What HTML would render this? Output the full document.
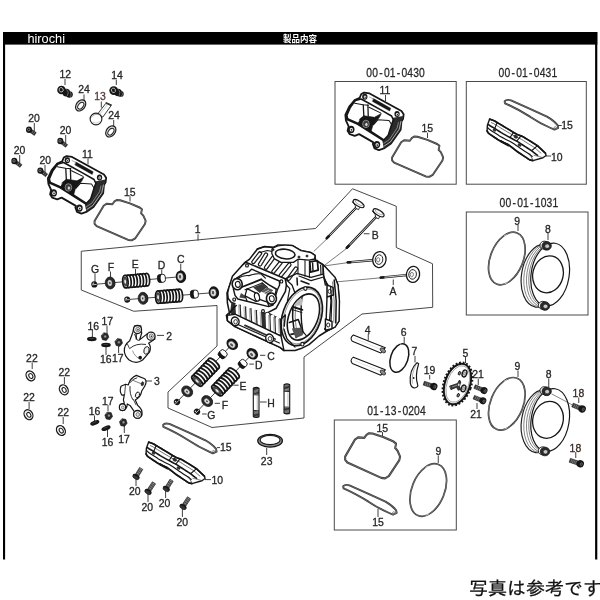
<!DOCTYPE html>
<html lang="ja"><head><meta charset="utf-8"><title>製品内容</title>
<style>
html,body{margin:0;padding:0;background:#fff;}
body{width:600px;height:600px;overflow:hidden;}
svg{display:block;will-change:transform;font-family:"Liberation Sans","Noto Sans CJK JP",sans-serif;}
</style></head><body>
<svg width="600" height="600" viewBox="0 0 600 600">
<rect width="600" height="600" fill="#fff"/>
<rect x="3" y="32" width="594.3" height="12.6" fill="#000"/>
<rect x="3" y="32" width="2.1" height="527.5" fill="#000"/>
<rect x="595.1" y="32" width="2.2" height="527.5" fill="#000"/>
<text x="27.4" y="42.6" font-size="13.4" fill="#fff" text-anchor="start" font-weight="normal" textLength="37.6" lengthAdjust="spacingAndGlyphs">hirochi</text>
<text x="283" y="42" font-size="8.6" fill="#fff" font-weight="bold" textLength="34" lengthAdjust="spacingAndGlyphs" style="font-family:'Liberation Sans','Noto Sans CJK JP',sans-serif">製品内容</text>
<text x="469" y="594.5" font-size="18.6" fill="#111" stroke="#111" stroke-width="0.25" textLength="133" lengthAdjust="spacingAndGlyphs" style="font-family:'Liberation Sans','IPAGothic','Noto Sans CJK JP',sans-serif">写真は参考です</text>
<rect x="335" y="81.5" width="121.19999999999999" height="102.69999999999999" fill="none" stroke="#4a4a4a" stroke-width="1"/>
<rect x="466.3" y="81.5" width="119.99999999999994" height="102.69999999999999" fill="none" stroke="#4a4a4a" stroke-width="1"/>
<rect x="466.3" y="212" width="121.69999999999999" height="103" fill="none" stroke="#4a4a4a" stroke-width="1"/>
<rect x="334.3" y="420" width="122.0" height="110" fill="none" stroke="#4a4a4a" stroke-width="1"/>
<text transform="translate(366.3 76.8) scale(0.86 1)" x="0.00 6.82 14.99 20.46 27.28 35.45 40.92 47.74 54.56 61.38" y="0" font-size="12" fill="#262626" stroke="#262626" stroke-width="0.25">00-01-0430</text>
<text transform="translate(498.6 76.8) scale(0.86 1)" x="0.00 6.82 14.99 20.46 27.28 35.45 40.92 47.74 54.56 61.38" y="0" font-size="12" fill="#262626" stroke="#262626" stroke-width="0.25">00-01-0431</text>
<text transform="translate(499.6 207.3) scale(0.86 1)" x="0.00 6.82 14.99 20.46 27.28 35.45 40.92 47.74 54.56 61.38" y="0" font-size="12" fill="#262626" stroke="#262626" stroke-width="0.25">00-01-1031</text>
<text transform="translate(367.2 415.4) scale(0.86 1)" x="0.00 6.82 14.99 20.46 27.28 35.45 40.92 47.74 54.56 61.38" y="0" font-size="12" fill="#262626" stroke="#262626" stroke-width="0.25">01-13-0204</text>
<polygon points="81.25,251.25 315.5,228.5 352.5,188.75 396.25,206.25 396.25,247.5 432.5,263.75 432.7,307.3 362,314 304,357 304,418 212,427.5 168,408 168,392 217,346 217,305.5 133.75,311.25 81.25,290" fill="none" stroke="#333" stroke-width="0.9"/>
<text transform="translate(65.20 77.9) scale(0.9 1)" x="0" y="0" font-size="11.6" fill="#262626" stroke="#262626" stroke-width="0.32" text-anchor="middle">12</text>
<line x1="65" y1="78.9" x2="65" y2="85" stroke="#2a2a2a" stroke-width="0.9" />
<text transform="translate(117.00 78.5) scale(0.9 1)" x="0" y="0" font-size="11.6" fill="#262626" stroke="#262626" stroke-width="0.32" text-anchor="middle">14</text>
<line x1="116.3" y1="79.7" x2="116.3" y2="85" stroke="#2a2a2a" stroke-width="0.9" />
<text transform="translate(84.00 92.9) scale(0.9 1)" x="0" y="0" font-size="11.6" fill="#262626" stroke="#262626" stroke-width="0.32" text-anchor="middle">24</text>
<line x1="84" y1="94.5" x2="84" y2="101.5" stroke="#2a2a2a" stroke-width="0.9" />
<text transform="translate(114.00 118.5) scale(0.9 1)" x="0" y="0" font-size="11.6" fill="#262626" stroke="#262626" stroke-width="0.32" text-anchor="middle">24</text>
<line x1="113.7" y1="120" x2="113.7" y2="126" stroke="#2a2a2a" stroke-width="0.9" />
<text transform="translate(34.05 121.9) scale(0.9 1)" x="0" y="0" font-size="11.6" fill="#262626" stroke="#262626" stroke-width="0.32" text-anchor="middle">20</text>
<line x1="34.3" y1="123" x2="34.3" y2="131" stroke="#2a2a2a" stroke-width="0.9" />
<text transform="translate(65.50 133.5) scale(0.9 1)" x="0" y="0" font-size="11.6" fill="#262626" stroke="#262626" stroke-width="0.32" text-anchor="middle">20</text>
<line x1="65.7" y1="135" x2="65.7" y2="143" stroke="#2a2a2a" stroke-width="0.9" />
<text transform="translate(19.50 153.9) scale(0.9 1)" x="0" y="0" font-size="11.6" fill="#262626" stroke="#262626" stroke-width="0.32" text-anchor="middle">20</text>
<line x1="19.7" y1="155" x2="19.7" y2="163" stroke="#2a2a2a" stroke-width="0.9" />
<text transform="translate(45.30 163.9) scale(0.9 1)" x="0" y="0" font-size="11.6" fill="#262626" stroke="#262626" stroke-width="0.32" text-anchor="middle">20</text>
<line x1="45" y1="165" x2="45" y2="173" stroke="#2a2a2a" stroke-width="0.9" />
<text transform="translate(197.75 233.3) scale(0.9 1)" x="0" y="0" font-size="11.6" fill="#262626" stroke="#262626" stroke-width="0.32" text-anchor="middle">1</text>
<line x1="198" y1="234.3" x2="198" y2="240.5" stroke="#2a2a2a" stroke-width="0.9" />
<text transform="translate(95.00 272.5) scale(0.9 1)" x="0" y="0" font-size="11.6" fill="#262626" stroke="#262626" stroke-width="0.32" text-anchor="middle">G</text>
<line x1="95" y1="273.5" x2="95" y2="282" stroke="#2a2a2a" stroke-width="0.9" />
<text transform="translate(110.88 270.5) scale(0.9 1)" x="0" y="0" font-size="11.6" fill="#262626" stroke="#262626" stroke-width="0.32" text-anchor="middle">F</text>
<line x1="110.5" y1="271.5" x2="110.5" y2="279" stroke="#2a2a2a" stroke-width="0.9" />
<text transform="translate(135.25 268.3) scale(0.9 1)" x="0" y="0" font-size="11.6" fill="#262626" stroke="#262626" stroke-width="0.32" text-anchor="middle">E</text>
<line x1="135.5" y1="269" x2="135.5" y2="276" stroke="#2a2a2a" stroke-width="0.9" />
<text transform="translate(161.62 268.8) scale(0.9 1)" x="0" y="0" font-size="11.6" fill="#262626" stroke="#262626" stroke-width="0.32" text-anchor="middle">D</text>
<line x1="161.75" y1="269.5" x2="161.75" y2="276" stroke="#2a2a2a" stroke-width="0.9" />
<text transform="translate(180.88 263) scale(0.9 1)" x="0" y="0" font-size="11.6" fill="#262626" stroke="#262626" stroke-width="0.32" text-anchor="middle">C</text>
<line x1="180.75" y1="264" x2="180.75" y2="271" stroke="#2a2a2a" stroke-width="0.9" />
<text transform="translate(93.20 329.5) scale(0.9 1)" x="0" y="0" font-size="11.6" fill="#262626" stroke="#262626" stroke-width="0.32" text-anchor="middle">16</text>
<line x1="92.4" y1="330" x2="92.4" y2="337" stroke="#2a2a2a" stroke-width="0.9" />
<text transform="translate(107.20 325) scale(0.9 1)" x="0" y="0" font-size="11.6" fill="#262626" stroke="#262626" stroke-width="0.32" text-anchor="middle">17</text>
<line x1="107" y1="325.5" x2="107" y2="333" stroke="#2a2a2a" stroke-width="0.9" />
<text transform="translate(105.70 363.4) scale(0.9 1)" x="0" y="0" font-size="11.6" fill="#262626" stroke="#262626" stroke-width="0.32" text-anchor="middle">16</text>
<line x1="106" y1="347" x2="106" y2="355" stroke="#2a2a2a" stroke-width="0.9" />
<text transform="translate(117.70 362) scale(0.9 1)" x="0" y="0" font-size="11.6" fill="#262626" stroke="#262626" stroke-width="0.32" text-anchor="middle">17</text>
<line x1="118.6" y1="346" x2="118.6" y2="353" stroke="#2a2a2a" stroke-width="0.9" />
<text transform="translate(169.20 340) scale(0.9 1)" x="0" y="0" font-size="11.6" fill="#262626" stroke="#262626" stroke-width="0.32" text-anchor="middle">2</text>
<line x1="157" y1="335.4" x2="164" y2="335.4" stroke="#2a2a2a" stroke-width="0.9" />
<text transform="translate(156.80 385.4) scale(0.9 1)" x="0" y="0" font-size="11.6" fill="#262626" stroke="#262626" stroke-width="0.32" text-anchor="middle">3</text>
<line x1="145.6" y1="381" x2="152" y2="381" stroke="#2a2a2a" stroke-width="0.9" />
<text transform="translate(107.80 404.6) scale(0.9 1)" x="0" y="0" font-size="11.6" fill="#262626" stroke="#262626" stroke-width="0.32" text-anchor="middle">17</text>
<line x1="108" y1="405" x2="108" y2="411" stroke="#2a2a2a" stroke-width="0.9" />
<text transform="translate(94.55 414.7) scale(0.9 1)" x="0" y="0" font-size="11.6" fill="#262626" stroke="#262626" stroke-width="0.32" text-anchor="middle">16</text>
<line x1="94.5" y1="415.5" x2="94.5" y2="421" stroke="#2a2a2a" stroke-width="0.9" />
<text transform="translate(107.45 446.2) scale(0.9 1)" x="0" y="0" font-size="11.6" fill="#262626" stroke="#262626" stroke-width="0.32" text-anchor="middle">16</text>
<line x1="107.5" y1="430" x2="107.5" y2="437" stroke="#2a2a2a" stroke-width="0.9" />
<text transform="translate(124.00 442.7) scale(0.9 1)" x="0" y="0" font-size="11.6" fill="#262626" stroke="#262626" stroke-width="0.32" text-anchor="middle">17</text>
<line x1="124.3" y1="426" x2="124.3" y2="433" stroke="#2a2a2a" stroke-width="0.9" />
<text transform="translate(31.90 361.5) scale(0.9 1)" x="0" y="0" font-size="11.6" fill="#262626" stroke="#262626" stroke-width="0.32" text-anchor="middle">22</text>
<line x1="32.2" y1="362.5" x2="32.2" y2="369" stroke="#2a2a2a" stroke-width="0.9" />
<text transform="translate(64.35 376) scale(0.9 1)" x="0" y="0" font-size="11.6" fill="#262626" stroke="#262626" stroke-width="0.32" text-anchor="middle">22</text>
<line x1="64.4" y1="377" x2="64.4" y2="384" stroke="#2a2a2a" stroke-width="0.9" />
<text transform="translate(29.00 401) scale(0.9 1)" x="0" y="0" font-size="11.6" fill="#262626" stroke="#262626" stroke-width="0.32" text-anchor="middle">22</text>
<line x1="29.1" y1="402" x2="29.1" y2="409" stroke="#2a2a2a" stroke-width="0.9" />
<text transform="translate(63.30 416.3) scale(0.9 1)" x="0" y="0" font-size="11.6" fill="#262626" stroke="#262626" stroke-width="0.32" text-anchor="middle">22</text>
<line x1="63.2" y1="417" x2="63.2" y2="424" stroke="#2a2a2a" stroke-width="0.9" />
<text transform="translate(225.70 451.2) scale(0.9 1)" x="0" y="0" font-size="11.6" fill="#262626" stroke="#262626" stroke-width="0.32" text-anchor="middle">15</text>
<line x1="217" y1="447.6" x2="220" y2="447.6" stroke="#2a2a2a" stroke-width="0.9" />
<text transform="translate(217.20 483.8) scale(0.9 1)" x="0" y="0" font-size="11.6" fill="#262626" stroke="#262626" stroke-width="0.32" text-anchor="middle">10</text>
<line x1="205" y1="479.6" x2="211" y2="479.6" stroke="#2a2a2a" stroke-width="0.9" />
<text transform="translate(134.80 494.8) scale(0.9 1)" x="0" y="0" font-size="11.6" fill="#262626" stroke="#262626" stroke-width="0.32" text-anchor="middle">20</text>
<line x1="136" y1="479" x2="136" y2="486" stroke="#2a2a2a" stroke-width="0.9" />
<text transform="translate(147.30 511.2) scale(0.9 1)" x="0" y="0" font-size="11.6" fill="#262626" stroke="#262626" stroke-width="0.32" text-anchor="middle">20</text>
<line x1="148" y1="494" x2="148" y2="502" stroke="#2a2a2a" stroke-width="0.9" />
<text transform="translate(164.50 507.2) scale(0.9 1)" x="0" y="0" font-size="11.6" fill="#262626" stroke="#262626" stroke-width="0.32" text-anchor="middle">20</text>
<line x1="165.6" y1="491" x2="165.6" y2="498" stroke="#2a2a2a" stroke-width="0.9" />
<text transform="translate(182.30 526.2) scale(0.9 1)" x="0" y="0" font-size="11.6" fill="#262626" stroke="#262626" stroke-width="0.32" text-anchor="middle">20</text>
<line x1="182.4" y1="509" x2="182.4" y2="517" stroke="#2a2a2a" stroke-width="0.9" />
<text transform="translate(271.00 406.8) scale(0.9 1)" x="0" y="0" font-size="11.6" fill="#262626" stroke="#262626" stroke-width="0.32" text-anchor="middle">H</text>
<line x1="260" y1="402" x2="266.7" y2="402" stroke="#2a2a2a" stroke-width="0.9" />
<text transform="translate(266.65 464.7) scale(0.9 1)" x="0" y="0" font-size="11.6" fill="#262626" stroke="#262626" stroke-width="0.32" text-anchor="middle">23</text>
<line x1="266.7" y1="448" x2="266.7" y2="455" stroke="#2a2a2a" stroke-width="0.9" />
<text transform="translate(271.00 359.9) scale(0.9 1)" x="0" y="0" font-size="11.6" fill="#262626" stroke="#262626" stroke-width="0.32" text-anchor="middle">C</text>
<line x1="260" y1="355.3" x2="265.3" y2="355.3" stroke="#2a2a2a" stroke-width="0.9" />
<text transform="translate(258.70 368.7) scale(0.9 1)" x="0" y="0" font-size="11.6" fill="#262626" stroke="#262626" stroke-width="0.32" text-anchor="middle">D</text>
<line x1="249.3" y1="364.1" x2="253.9" y2="364.1" stroke="#2a2a2a" stroke-width="0.9" />
<text transform="translate(242.95 390) scale(0.9 1)" x="0" y="0" font-size="11.6" fill="#262626" stroke="#262626" stroke-width="0.32" text-anchor="middle">E</text>
<line x1="233.3" y1="385.2" x2="238.7" y2="385.2" stroke="#2a2a2a" stroke-width="0.9" />
<text transform="translate(224.95 408.7) scale(0.9 1)" x="0" y="0" font-size="11.6" fill="#262626" stroke="#262626" stroke-width="0.32" text-anchor="middle">F</text>
<line x1="214.7" y1="403.3" x2="220" y2="403.3" stroke="#2a2a2a" stroke-width="0.9" />
<text transform="translate(211.35 418.5) scale(0.9 1)" x="0" y="0" font-size="11.6" fill="#262626" stroke="#262626" stroke-width="0.32" text-anchor="middle">G</text>
<line x1="202.1" y1="414" x2="206.7" y2="414" stroke="#2a2a2a" stroke-width="0.9" />
<text transform="translate(375.25 238.8) scale(0.9 1)" x="0" y="0" font-size="11.6" fill="#262626" stroke="#262626" stroke-width="0.32" text-anchor="middle">B</text>
<line x1="363.75" y1="233.75" x2="369.5" y2="233.75" stroke="#2a2a2a" stroke-width="0.9" />
<text transform="translate(393.00 295) scale(0.9 1)" x="0" y="0" font-size="11.6" fill="#262626" stroke="#262626" stroke-width="0.32" text-anchor="middle">A</text>
<line x1="393.25" y1="279.5" x2="393.25" y2="285" stroke="#2a2a2a" stroke-width="0.9" />
<text transform="translate(367.70 333.6) scale(0.9 1)" x="0" y="0" font-size="11.6" fill="#262626" stroke="#262626" stroke-width="0.32" text-anchor="middle">4</text>
<line x1="368.25" y1="334" x2="368.25" y2="340.4" stroke="#2a2a2a" stroke-width="0.9" />
<text transform="translate(403.65 336.4) scale(0.9 1)" x="0" y="0" font-size="11.6" fill="#262626" stroke="#262626" stroke-width="0.32" text-anchor="middle">6</text>
<line x1="404.2" y1="337" x2="404.2" y2="343.2" stroke="#2a2a2a" stroke-width="0.9" />
<text transform="translate(414.50 355.4) scale(0.9 1)" x="0" y="0" font-size="11.6" fill="#262626" stroke="#262626" stroke-width="0.32" text-anchor="middle">7</text>
<line x1="415" y1="356" x2="415" y2="362.5" stroke="#2a2a2a" stroke-width="0.9" />
<text transform="translate(429.60 374.4) scale(0.9 1)" x="0" y="0" font-size="11.6" fill="#262626" stroke="#262626" stroke-width="0.32" text-anchor="middle">19</text>
<line x1="429.7" y1="375" x2="429.7" y2="379.5" stroke="#2a2a2a" stroke-width="0.9" />
<text transform="translate(465.30 356.5) scale(0.9 1)" x="0" y="0" font-size="11.6" fill="#262626" stroke="#262626" stroke-width="0.32" text-anchor="middle">5</text>
<line x1="465.5" y1="357" x2="465.5" y2="363" stroke="#2a2a2a" stroke-width="0.9" />
<text transform="translate(478.00 378) scale(0.9 1)" x="0" y="0" font-size="11.6" fill="#262626" stroke="#262626" stroke-width="0.32" text-anchor="middle">21</text>
<line x1="478.25" y1="378.5" x2="478.25" y2="385" stroke="#2a2a2a" stroke-width="0.9" />
<text transform="translate(476.00 418) scale(0.9 1)" x="0" y="0" font-size="11.6" fill="#262626" stroke="#262626" stroke-width="0.32" text-anchor="middle">21</text>
<line x1="477" y1="403" x2="477" y2="409" stroke="#2a2a2a" stroke-width="0.9" />
<text transform="translate(517.50 370) scale(0.9 1)" x="0" y="0" font-size="11.6" fill="#262626" stroke="#262626" stroke-width="0.32" text-anchor="middle">9</text>
<line x1="518" y1="370.5" x2="518" y2="377" stroke="#2a2a2a" stroke-width="0.9" />
<text transform="translate(548.75 378) scale(0.9 1)" x="0" y="0" font-size="11.6" fill="#262626" stroke="#262626" stroke-width="0.32" text-anchor="middle">8</text>
<line x1="548.75" y1="378.5" x2="548.75" y2="387" stroke="#2a2a2a" stroke-width="0.9" />
<text transform="translate(567.12 128.8) scale(0.9 1)" x="0" y="0" font-size="11.6" fill="#262626" stroke="#262626" stroke-width="0.32" text-anchor="middle">15</text>
<line x1="557.5" y1="125.5" x2="561.75" y2="125.5" stroke="#2a2a2a" stroke-width="0.9" />
<text transform="translate(556.75 161) scale(0.9 1)" x="0" y="0" font-size="11.6" fill="#262626" stroke="#262626" stroke-width="0.32" text-anchor="middle">10</text>
<line x1="546" y1="156" x2="551" y2="156" stroke="#2a2a2a" stroke-width="0.9" />
<text transform="translate(517.25 224.5) scale(0.9 1)" x="0" y="0" font-size="11.6" fill="#262626" stroke="#262626" stroke-width="0.32" text-anchor="middle">9</text>
<line x1="518" y1="225" x2="518" y2="231" stroke="#2a2a2a" stroke-width="0.9" />
<text transform="translate(547.88 232.5) scale(0.9 1)" x="0" y="0" font-size="11.6" fill="#262626" stroke="#262626" stroke-width="0.32" text-anchor="middle">8</text>
<line x1="548" y1="233" x2="548" y2="240" stroke="#2a2a2a" stroke-width="0.9" />
<text transform="translate(382.25 431.8) scale(0.9 1)" x="0" y="0" font-size="11.6" fill="#262626" stroke="#262626" stroke-width="0.32" text-anchor="middle">15</text>
<line x1="382.5" y1="432" x2="382.5" y2="436" stroke="#2a2a2a" stroke-width="0.9" />
<text transform="translate(378.00 526) scale(0.9 1)" x="0" y="0" font-size="11.6" fill="#262626" stroke="#262626" stroke-width="0.32" text-anchor="middle">15</text>
<line x1="378" y1="508.75" x2="378" y2="517" stroke="#2a2a2a" stroke-width="0.9" />
<text transform="translate(438.38 455) scale(0.9 1)" x="0" y="0" font-size="11.6" fill="#262626" stroke="#262626" stroke-width="0.32" text-anchor="middle">9</text>
<line x1="438.25" y1="455.5" x2="438.25" y2="463" stroke="#2a2a2a" stroke-width="0.9" />
<text transform="translate(100.00 99.6) scale(0.9 1)" x="0" y="0" font-size="11.6" fill="#553c34" stroke="#553c34" stroke-width="0.32" text-anchor="middle">13</text>
<line x1="101.3" y1="101.5" x2="101.3" y2="107.7" stroke="#2a2a2a" stroke-width="0.9" />
<text transform="translate(578.38 397) scale(0.9 1)" x="0" y="0" font-size="11.6" fill="#3a2c26" stroke="#3a2c26" stroke-width="0.32" text-anchor="middle">18</text>
<line x1="578.75" y1="397.5" x2="578.75" y2="403" stroke="#2a2a2a" stroke-width="0.9" />
<text transform="translate(575.38 451.75) scale(0.9 1)" x="0" y="0" font-size="11.6" fill="#3a2c26" stroke="#3a2c26" stroke-width="0.32" text-anchor="middle">18</text>
<line x1="575.75" y1="452" x2="575.75" y2="458" stroke="#2a2a2a" stroke-width="0.9" />
<g transform=" translate(44 152) scale(0.110000)">
<path d="M205,38 L255,45 L545,205 L565,235 L560,275 L545,300 L538,375 L450,500 L385,545 L340,560 L300,545 L285,505 L290,490 L160,415 L120,430 L75,415 L55,385 L65,345 L40,290 L35,240 L70,165 L120,105 L165,85 L180,50 Z" fill="#fff" stroke="#161616" stroke-width="16.364" stroke-linejoin="round" stroke-linecap="round" />
<path d="M560,250 L548,300 L538,375 L450,500 L385,545 L372,478 L425,425 L462,300 L470,265 Z" fill="#2b2b2b" stroke="none" stroke-linejoin="round" stroke-linecap="round" />
<path d="M540,300 L525,370 L445,485 L390,522" fill="none" stroke="#e8e8e8" stroke-width="6.364" stroke-linejoin="round" stroke-linecap="round" />
<path d="M518,310 L505,360 L435,465 L385,498" fill="none" stroke="#bdbdbd" stroke-width="5.455" stroke-linejoin="round" stroke-linecap="round" />
<path d="M292,92 L448,180 L438,205 L282,118 Z" fill="#161616" stroke="#161616" stroke-width="3.636" stroke-linejoin="round" stroke-linecap="round" />
<path d="M255,78 L290,95" fill="none" stroke="#555" stroke-width="4.545" stroke-linejoin="round" stroke-linecap="round" />
<path d="M120,112 L178,96 L245,132 L350,190 L455,250 L472,285 L458,320 L425,425 L385,468" fill="none" stroke="#161616" stroke-width="14.545" stroke-linejoin="round" stroke-linecap="round" />
<path d="M122,110 L78,172 L47,245 L55,280" fill="none" stroke="#161616" stroke-width="18.182" stroke-linejoin="round" stroke-linecap="round" />
<path d="M52,278 L150,322 L272,398 L380,468" fill="none" stroke="#161616" stroke-width="23.636" stroke-linejoin="round" stroke-linecap="round" />
<path d="M150,322 L168,300 L200,255" fill="none" stroke="#161616" stroke-width="10.909" stroke-linejoin="round" stroke-linecap="round" />
<path d="M198,150 L203,250" fill="none" stroke="#161616" stroke-width="11.818" stroke-linejoin="round" stroke-linecap="round" />
<path d="M240,150 L243,250" fill="none" stroke="#161616" stroke-width="11.818" stroke-linejoin="round" stroke-linecap="round" />
<path d="M120,135 L195,148 L245,152" fill="none" stroke="#161616" stroke-width="9.091" stroke-linejoin="round" stroke-linecap="round" />
<path d="M168,275 L205,248 L300,262 L362,228 L345,262 L285,335 L268,395 L160,318 Z" fill="#161616" stroke="#161616" stroke-width="5.455" stroke-linejoin="round" stroke-linecap="round" />
<path d="M250,170 L355,222" fill="none" stroke="#161616" stroke-width="9.091" stroke-linejoin="round" stroke-linecap="round" />
<path d="M290,330 L330,285 L432,290 L452,322" fill="none" stroke="#161616" stroke-width="9.091" stroke-linejoin="round" stroke-linecap="round" />
<ellipse cx="222" cy="322" rx="30" ry="34" fill="#3a3a3a" stroke="#ddd" stroke-width="4.545"/>
<ellipse cx="226" cy="328" rx="15" ry="18" fill="#ddd" stroke="#161616" stroke-width="5.455"/>
<ellipse cx="212" cy="75" rx="24" ry="26.400000000000002" fill="#161616" stroke="none"/>
<ellipse cx="214" cy="77" rx="12.0" ry="13.919999999999998" fill="#e8e8e8" stroke="none"/>
<ellipse cx="215" cy="79" rx="5.28" ry="6.24" fill="#161616" stroke="none"/>
<ellipse cx="505" cy="232" rx="24" ry="26.400000000000002" fill="#161616" stroke="none"/>
<ellipse cx="507" cy="234" rx="12.0" ry="13.919999999999998" fill="#e8e8e8" stroke="none"/>
<ellipse cx="508" cy="236" rx="5.28" ry="6.24" fill="#161616" stroke="none"/>
<ellipse cx="88" cy="372" rx="30" ry="33.0" fill="#161616" stroke="none"/>
<ellipse cx="90" cy="374" rx="15.0" ry="17.4" fill="#e8e8e8" stroke="none"/>
<ellipse cx="91" cy="376" rx="6.6" ry="7.800000000000001" fill="#161616" stroke="none"/>
<ellipse cx="322" cy="510" rx="30" ry="33.0" fill="#161616" stroke="none"/>
<ellipse cx="324" cy="512" rx="15.0" ry="17.4" fill="#e8e8e8" stroke="none"/>
<ellipse cx="325" cy="514" rx="6.6" ry="7.800000000000001" fill="#161616" stroke="none"/>
</g>
<g transform=" translate(85 190) scale(0.116667)">
<path d="M250,100 L272,86 L300,88 L385,115 L468,150 L488,166 L481,200 L500,220 L520,265 L514,292 L430,415 L400,432 L370,428 L100,310 L82,290 L82,265 L160,135 L185,118 L235,122 Z" fill="none" stroke="#333" stroke-width="16.286" stroke-linejoin="round" stroke-linecap="round" />
<path d="M250,100 L272,86 L300,88 L385,115 L468,150 L488,166 L481,200 L500,220 L520,265 L514,292 L430,415 L400,432 L370,428 L100,310 L82,290 L82,265 L160,135 L185,118 L235,122 Z" fill="none" stroke="#9a9a9a" stroke-width="4.286" stroke-linejoin="round" stroke-linecap="round" />
</g>
<text transform="translate(87.30 157.6) scale(0.9 1)" x="0" y="0" font-size="11.6" fill="#262626" stroke="#262626" stroke-width="0.32" text-anchor="middle">11</text>
<line x1="88" y1="158.3" x2="88" y2="164.5" stroke="#2a2a2a" stroke-width="0.9" />
<text transform="translate(129.70 195.6) scale(0.9 1)" x="0" y="0" font-size="11.6" fill="#262626" stroke="#262626" stroke-width="0.32" text-anchor="middle">15</text>
<line x1="130" y1="196.2" x2="130" y2="201.5" stroke="#2a2a2a" stroke-width="0.9" />
<g transform="translate(297.5 -63.5)">
<g transform=" translate(44 152) scale(0.110000)">
<path d="M205,38 L255,45 L545,205 L565,235 L560,275 L545,300 L538,375 L450,500 L385,545 L340,560 L300,545 L285,505 L290,490 L160,415 L120,430 L75,415 L55,385 L65,345 L40,290 L35,240 L70,165 L120,105 L165,85 L180,50 Z" fill="#fff" stroke="#161616" stroke-width="16.364" stroke-linejoin="round" stroke-linecap="round" />
<path d="M560,250 L548,300 L538,375 L450,500 L385,545 L372,478 L425,425 L462,300 L470,265 Z" fill="#2b2b2b" stroke="none" stroke-linejoin="round" stroke-linecap="round" />
<path d="M540,300 L525,370 L445,485 L390,522" fill="none" stroke="#e8e8e8" stroke-width="6.364" stroke-linejoin="round" stroke-linecap="round" />
<path d="M518,310 L505,360 L435,465 L385,498" fill="none" stroke="#bdbdbd" stroke-width="5.455" stroke-linejoin="round" stroke-linecap="round" />
<path d="M292,92 L448,180 L438,205 L282,118 Z" fill="#161616" stroke="#161616" stroke-width="3.636" stroke-linejoin="round" stroke-linecap="round" />
<path d="M255,78 L290,95" fill="none" stroke="#555" stroke-width="4.545" stroke-linejoin="round" stroke-linecap="round" />
<path d="M120,112 L178,96 L245,132 L350,190 L455,250 L472,285 L458,320 L425,425 L385,468" fill="none" stroke="#161616" stroke-width="14.545" stroke-linejoin="round" stroke-linecap="round" />
<path d="M122,110 L78,172 L47,245 L55,280" fill="none" stroke="#161616" stroke-width="18.182" stroke-linejoin="round" stroke-linecap="round" />
<path d="M52,278 L150,322 L272,398 L380,468" fill="none" stroke="#161616" stroke-width="23.636" stroke-linejoin="round" stroke-linecap="round" />
<path d="M150,322 L168,300 L200,255" fill="none" stroke="#161616" stroke-width="10.909" stroke-linejoin="round" stroke-linecap="round" />
<path d="M198,150 L203,250" fill="none" stroke="#161616" stroke-width="11.818" stroke-linejoin="round" stroke-linecap="round" />
<path d="M240,150 L243,250" fill="none" stroke="#161616" stroke-width="11.818" stroke-linejoin="round" stroke-linecap="round" />
<path d="M120,135 L195,148 L245,152" fill="none" stroke="#161616" stroke-width="9.091" stroke-linejoin="round" stroke-linecap="round" />
<path d="M168,275 L205,248 L300,262 L362,228 L345,262 L285,335 L268,395 L160,318 Z" fill="#161616" stroke="#161616" stroke-width="5.455" stroke-linejoin="round" stroke-linecap="round" />
<path d="M250,170 L355,222" fill="none" stroke="#161616" stroke-width="9.091" stroke-linejoin="round" stroke-linecap="round" />
<path d="M290,330 L330,285 L432,290 L452,322" fill="none" stroke="#161616" stroke-width="9.091" stroke-linejoin="round" stroke-linecap="round" />
<ellipse cx="222" cy="322" rx="30" ry="34" fill="#3a3a3a" stroke="#ddd" stroke-width="4.545"/>
<ellipse cx="226" cy="328" rx="15" ry="18" fill="#ddd" stroke="#161616" stroke-width="5.455"/>
<ellipse cx="212" cy="75" rx="24" ry="26.400000000000002" fill="#161616" stroke="none"/>
<ellipse cx="214" cy="77" rx="12.0" ry="13.919999999999998" fill="#e8e8e8" stroke="none"/>
<ellipse cx="215" cy="79" rx="5.28" ry="6.24" fill="#161616" stroke="none"/>
<ellipse cx="505" cy="232" rx="24" ry="26.400000000000002" fill="#161616" stroke="none"/>
<ellipse cx="507" cy="234" rx="12.0" ry="13.919999999999998" fill="#e8e8e8" stroke="none"/>
<ellipse cx="508" cy="236" rx="5.28" ry="6.24" fill="#161616" stroke="none"/>
<ellipse cx="88" cy="372" rx="30" ry="33.0" fill="#161616" stroke="none"/>
<ellipse cx="90" cy="374" rx="15.0" ry="17.4" fill="#e8e8e8" stroke="none"/>
<ellipse cx="91" cy="376" rx="6.6" ry="7.800000000000001" fill="#161616" stroke="none"/>
<ellipse cx="322" cy="510" rx="30" ry="33.0" fill="#161616" stroke="none"/>
<ellipse cx="324" cy="512" rx="15.0" ry="17.4" fill="#e8e8e8" stroke="none"/>
<ellipse cx="325" cy="514" rx="6.6" ry="7.800000000000001" fill="#161616" stroke="none"/>
</g>
<g transform=" translate(85 190) scale(0.116667)">
<path d="M250,100 L272,86 L300,88 L385,115 L468,150 L488,166 L481,200 L500,220 L520,265 L514,292 L430,415 L400,432 L370,428 L100,310 L82,290 L82,265 L160,135 L185,118 L235,122 Z" fill="none" stroke="#333" stroke-width="16.286" stroke-linejoin="round" stroke-linecap="round" />
<path d="M250,100 L272,86 L300,88 L385,115 L468,150 L488,166 L481,200 L500,220 L520,265 L514,292 L430,415 L400,432 L370,428 L100,310 L82,290 L82,265 L160,135 L185,118 L235,122 Z" fill="none" stroke="#9a9a9a" stroke-width="4.286" stroke-linejoin="round" stroke-linecap="round" />
</g>
<text transform="translate(87.30 157.6) scale(0.9 1)" x="0" y="0" font-size="11.6" fill="#262626" stroke="#262626" stroke-width="0.32" text-anchor="middle">11</text>
<line x1="88" y1="158.3" x2="88" y2="164.5" stroke="#2a2a2a" stroke-width="0.9" />
<text transform="translate(129.70 195.6) scale(0.9 1)" x="0" y="0" font-size="11.6" fill="#262626" stroke="#262626" stroke-width="0.32" text-anchor="middle">15</text>
<line x1="130" y1="196.2" x2="130" y2="201.5" stroke="#2a2a2a" stroke-width="0.9" />
</g>
<g transform=" translate(50 65) scale(0.133333)">
<ellipse cx="146" cy="221" rx="25" ry="25" fill="#161616" stroke="none"/>
<path d="M150,201 Q167,216 155,240" fill="none" stroke="#cfcfcf" stroke-width="3.375" stroke-linejoin="round" stroke-linecap="round" />
<ellipse cx="122" cy="207" rx="29" ry="29" fill="#161616" stroke="none"/>
<path d="M126,184 Q147,201 132,229" fill="none" stroke="#cfcfcf" stroke-width="3.375" stroke-linejoin="round" stroke-linecap="round" />
<ellipse cx="86" cy="187" rx="32" ry="32" fill="#161616" stroke="none"/>
<ellipse cx="84" cy="186" rx="15" ry="17" fill="none" stroke="#fff" stroke-width="4.5" transform="rotate(-20 84 186)"/>
<ellipse cx="531" cy="217" rx="22" ry="22" fill="#161616" stroke="none"/>
<path d="M534,199 Q550,213 539,234" fill="none" stroke="#cfcfcf" stroke-width="3.375" stroke-linejoin="round" stroke-linecap="round" />
<ellipse cx="510" cy="207" rx="28" ry="28" fill="#161616" stroke="none"/>
<path d="M514,185 Q534,201 520,228" fill="none" stroke="#cfcfcf" stroke-width="3.375" stroke-linejoin="round" stroke-linecap="round" />
<ellipse cx="478" cy="192" rx="33" ry="33" fill="#161616" stroke="none"/>
<ellipse cx="476" cy="190" rx="15" ry="17" fill="none" stroke="#fff" stroke-width="4.5" transform="rotate(-20 476 190)"/>
<ellipse cx="230" cy="303" rx="33" ry="46" fill="#d8d8d8" stroke="#1a1a1a" stroke-width="8.625" transform="rotate(38 230 303)"/>
<ellipse cx="231" cy="305" rx="18" ry="29" fill="#fff" stroke="#1a1a1a" stroke-width="7.125" transform="rotate(38 231 305)"/>
<ellipse cx="456" cy="498" rx="33" ry="46" fill="#d8d8d8" stroke="#1a1a1a" stroke-width="8.625" transform="rotate(38 456 498)"/>
<ellipse cx="457" cy="500" rx="18" ry="29" fill="#fff" stroke="#1a1a1a" stroke-width="7.125" transform="rotate(38 457 500)"/>
<path d="M362,362 L418,288 L458,305 L398,388 Z" fill="#fff" stroke="#222" stroke-width="6.75" stroke-linejoin="round" stroke-linecap="round" />
<path d="M422,283 L460,300" fill="none" stroke="#222" stroke-width="9.75" stroke-linejoin="round" stroke-linecap="round" />
<path d="M375,368 L432,296" fill="none" stroke="#999" stroke-width="3.75" stroke-linejoin="round" stroke-linecap="round" />
<ellipse cx="345" cy="405" rx="44" ry="44" fill="#fff" stroke="#222" stroke-width="8.625"/>
<path d="M312,392 Q330,362 368,372" fill="none" stroke="#777" stroke-width="4.5" stroke-linejoin="round" stroke-linecap="round" />
<path d="M318,430 Q345,448 375,425" fill="none" stroke="#999" stroke-width="3.75" stroke-linejoin="round" stroke-linecap="round" />
</g>
<polygon points="28.04,131.10 34.34,135.40 36.26,132.60 29.96,128.30" fill="#2a2a2a" stroke="#1a1a1a" stroke-width="0.5"/>
<line x1="31.79" y1="133.06" x2="33.14" y2="131.07" stroke="#ccc" stroke-width="0.5"/>
<line x1="33.36" y1="134.13" x2="34.72" y2="132.15" stroke="#ccc" stroke-width="0.5"/>
<ellipse cx="29" cy="129.7" rx="3.0" ry="3.2" fill="#161616"/>
<ellipse cx="28.7" cy="129.5" rx="1.2" ry="1.3" fill="none" stroke="#ddd" stroke-width="0.45"/>
<polygon points="59.24,142.33 65.54,147.33 67.66,144.67 61.36,139.67" fill="#2a2a2a" stroke="#1a1a1a" stroke-width="0.5"/>
<line x1="63.02" y1="144.69" x2="64.51" y2="142.81" stroke="#ccc" stroke-width="0.5"/>
<line x1="64.59" y1="145.94" x2="66.09" y2="144.06" stroke="#ccc" stroke-width="0.5"/>
<ellipse cx="60.3" cy="141" rx="3.0" ry="3.2" fill="#161616"/>
<ellipse cx="60.0" cy="140.8" rx="1.2" ry="1.3" fill="none" stroke="#ddd" stroke-width="0.45"/>
<polygon points="13.28,162.36 19.98,167.36 22.02,164.64 15.32,159.64" fill="#2a2a2a" stroke="#1a1a1a" stroke-width="0.5"/>
<line x1="17.27" y1="164.71" x2="18.70" y2="162.79" stroke="#ccc" stroke-width="0.5"/>
<line x1="18.94" y1="165.96" x2="20.38" y2="164.04" stroke="#ccc" stroke-width="0.5"/>
<ellipse cx="14.3" cy="161" rx="3.0" ry="3.2" fill="#161616"/>
<ellipse cx="14.0" cy="160.8" rx="1.2" ry="1.3" fill="none" stroke="#ddd" stroke-width="0.45"/>
<polygon points="39.28,171.96 45.58,176.66 47.62,173.94 41.32,169.24" fill="#2a2a2a" stroke="#1a1a1a" stroke-width="0.5"/>
<line x1="43.05" y1="174.15" x2="44.48" y2="172.22" stroke="#ccc" stroke-width="0.5"/>
<line x1="44.62" y1="175.32" x2="46.06" y2="173.40" stroke="#ccc" stroke-width="0.5"/>
<ellipse cx="40.3" cy="170.6" rx="3.0" ry="3.2" fill="#161616"/>
<ellipse cx="40.0" cy="170.4" rx="1.2" ry="1.3" fill="none" stroke="#ddd" stroke-width="0.45"/>
<g transform=" translate(480 90) scale(0.166667)">
<path d="M148,68 Q158,54 186,62 L300,113 L402,160 Q446,186 466,212 L469,228 L447,238 L424,228 Q360,200 300,160 Q220,110 150,80 Z" fill="none" stroke="#333" stroke-width="11.4" stroke-linejoin="round" stroke-linecap="round" />
<path d="M148,68 Q158,54 186,62 L300,113 L402,160 Q446,186 466,212 L469,228 L447,238 L424,228 Q360,200 300,160 Q220,110 150,80 Z" fill="none" stroke="#9a9a9a" stroke-width="3.0" stroke-linejoin="round" stroke-linecap="round" />
<ellipse cx="452" cy="226" rx="7" ry="5" fill="#fff" stroke="#333" stroke-width="3.0" transform="rotate(20 452 226)"/>
</g>
<g transform=" translate(484 114) scale(0.113334)">
<path d="M50,45 L95,62 L290,180 L340,198 L470,278 L542,346 L548,366 L520,386 L432,411 L405,406 L300,336 L215,271 L170,251 L130,231 L40,171 L27,150 L30,100 Z" fill="#fff" stroke="#161616" stroke-width="12.353" stroke-linejoin="round" stroke-linecap="round" />
<path d="M50.0,45.0 L72.6,53.6 L95.3,62.2 L116.0,74.7 L136.7,87.2 L157.4,99.7 L178.1,112.3 L198.8,124.8 L219.5,137.3 L240.2,149.9 L260.9,162.4 L281.6,174.9 L303.5,184.9 L326.3,193.1 L348.2,203.1 L368.8,215.7 L389.4,228.4 L410.1,241.1 L430.7,253.8 L451.3,266.5 L471.6,279.5 L489.2,296.1 L506.8,312.8 L524.4,329.4 L542.0,346.0" fill="none" stroke="#161616" stroke-width="15.0" stroke-linejoin="round" stroke-linecap="round" />
<path d="M65.7,76.3 L86.9,85.7 L106.8,98.0 L126.7,110.2 L146.7,122.5 L166.6,134.8 L186.7,146.9 L206.9,158.7 L227.1,170.5 L247.4,182.2 L267.7,193.9 L288.5,204.2 L310.0,213.2 L330.7,223.6 L350.4,236.3 L370.2,248.9 L390.0,261.4 L409.8,273.8 L429.7,286.2 L449.3,298.9 L466.8,314.4 L484.3,330.0 L501.9,345.0" fill="none" stroke="#333" stroke-width="6.176" stroke-linejoin="round" stroke-linecap="round" />
<path d="M39.4,93.3 L56.6,105.9 L75.9,116.3 L94.9,128.2 L113.8,140.2 L132.8,152.1 L151.8,164.1 L171.0,175.6 L190.5,186.5 L210.1,197.4 L229.8,207.9 L249.5,218.5 L269.0,229.2 L288.7,239.3 L308.0,250.4 L326.5,262.9 L345.1,275.4 L363.8,287.7 L382.7,299.7 L401.6,311.8 L420.4,324.0 L437.7,338.1 L454.9,352.3 L472.7,365.2" fill="none" stroke="#161616" stroke-width="14.118" stroke-linejoin="round" stroke-linecap="round" />
<path d="M33.4,120.6 L47.5,135.4 L65.0,146.9 L83.0,158.5 L100.9,170.1 L118.9,181.7 L136.9,193.4 L155.3,204.3 L174.1,214.3 L193.1,224.2 L212.3,233.7 L231.4,243.1 L249.5,254.3 L267.5,265.5 L285.2,277.1 L302.6,289.6 L320.0,302.0 L337.7,314.0 L355.6,325.7 L373.6,337.3 L391.4,349.1 L408.5,361.9 L425.6,374.6" fill="none" stroke="#161616" stroke-width="10.588" stroke-linejoin="round" stroke-linecap="round" />
<path d="M27.0,150.0 L37.7,167.3 L53.3,179.8 L70.2,191.1 L87.1,202.4 L104.0,213.6 L120.9,224.9 L138.3,235.2 L156.5,244.3 L174.8,253.1 L193.3,261.4 L211.9,269.6 L228.4,281.3 L244.6,293.6 L260.7,306.0 L276.8,318.3 L293.0,330.6 L309.5,342.4 L326.4,353.6 L343.3,364.9 L360.2,376.2 L377.1,387.4 L394.0,398.7 L412.0,407.3 L432.0,411.0" fill="none" stroke="#161616" stroke-width="15.0" stroke-linejoin="round" stroke-linecap="round" />
<path d="M115.0,77.0 L94.9,128.2" fill="none" stroke="#161616" stroke-width="9.706" stroke-linejoin="round" stroke-linecap="round" />
<path d="M259.6,164.4 L229.8,207.9" fill="none" stroke="#161616" stroke-width="9.706" stroke-linejoin="round" stroke-linecap="round" />
<path d="M324.7,195.1 L288.7,239.3" fill="none" stroke="#161616" stroke-width="9.706" stroke-linejoin="round" stroke-linecap="round" />
<path d="M469.4,281.5 L420.4,324.0" fill="none" stroke="#161616" stroke-width="9.706" stroke-linejoin="round" stroke-linecap="round" />
<ellipse cx="92" cy="142" rx="16" ry="12" fill="#333" stroke="none" transform="rotate(30 92 142)"/>
<ellipse cx="280" cy="200" rx="20" ry="15" fill="#2a2a2a" stroke="none" transform="rotate(30 280 200)"/>
<ellipse cx="314" cy="274" rx="18" ry="13" fill="#333" stroke="none" transform="rotate(30 314 274)"/>
<path d="M150,240 L214,277" fill="none" stroke="#161616" stroke-width="19.412" stroke-linejoin="round" stroke-linecap="round" />
<path d="M405,352 L432,408" fill="none" stroke="#333" stroke-width="7.059" stroke-linejoin="round" stroke-linecap="round" />
<path d="M440,364 L520,384" fill="none" stroke="#555" stroke-width="6.176" stroke-linejoin="round" stroke-linecap="round" />
</g>
<g transform="translate(-341.6 323.6) translate(480 90) scale(0.166667)">
<path d="M148,68 Q158,54 186,62 L300,113 L402,160 Q446,186 466,212 L469,228 L447,238 L424,228 Q360,200 300,160 Q220,110 150,80 Z" fill="none" stroke="#333" stroke-width="11.4" stroke-linejoin="round" stroke-linecap="round" />
<path d="M148,68 Q158,54 186,62 L300,113 L402,160 Q446,186 466,212 L469,228 L447,238 L424,228 Q360,200 300,160 Q220,110 150,80 Z" fill="none" stroke="#9a9a9a" stroke-width="3.0" stroke-linejoin="round" stroke-linecap="round" />
<ellipse cx="452" cy="226" rx="7" ry="5" fill="#fff" stroke="#333" stroke-width="3.0" transform="rotate(20 452 226)"/>
</g>
<g transform="translate(-341 323) translate(484 114) scale(0.113334)">
<path d="M50,45 L95,62 L290,180 L340,198 L470,278 L542,346 L548,366 L520,386 L432,411 L405,406 L300,336 L215,271 L170,251 L130,231 L40,171 L27,150 L30,100 Z" fill="#fff" stroke="#161616" stroke-width="12.353" stroke-linejoin="round" stroke-linecap="round" />
<path d="M50.0,45.0 L72.6,53.6 L95.3,62.2 L116.0,74.7 L136.7,87.2 L157.4,99.7 L178.1,112.3 L198.8,124.8 L219.5,137.3 L240.2,149.9 L260.9,162.4 L281.6,174.9 L303.5,184.9 L326.3,193.1 L348.2,203.1 L368.8,215.7 L389.4,228.4 L410.1,241.1 L430.7,253.8 L451.3,266.5 L471.6,279.5 L489.2,296.1 L506.8,312.8 L524.4,329.4 L542.0,346.0" fill="none" stroke="#161616" stroke-width="15.0" stroke-linejoin="round" stroke-linecap="round" />
<path d="M65.7,76.3 L86.9,85.7 L106.8,98.0 L126.7,110.2 L146.7,122.5 L166.6,134.8 L186.7,146.9 L206.9,158.7 L227.1,170.5 L247.4,182.2 L267.7,193.9 L288.5,204.2 L310.0,213.2 L330.7,223.6 L350.4,236.3 L370.2,248.9 L390.0,261.4 L409.8,273.8 L429.7,286.2 L449.3,298.9 L466.8,314.4 L484.3,330.0 L501.9,345.0" fill="none" stroke="#333" stroke-width="6.176" stroke-linejoin="round" stroke-linecap="round" />
<path d="M39.4,93.3 L56.6,105.9 L75.9,116.3 L94.9,128.2 L113.8,140.2 L132.8,152.1 L151.8,164.1 L171.0,175.6 L190.5,186.5 L210.1,197.4 L229.8,207.9 L249.5,218.5 L269.0,229.2 L288.7,239.3 L308.0,250.4 L326.5,262.9 L345.1,275.4 L363.8,287.7 L382.7,299.7 L401.6,311.8 L420.4,324.0 L437.7,338.1 L454.9,352.3 L472.7,365.2" fill="none" stroke="#161616" stroke-width="14.118" stroke-linejoin="round" stroke-linecap="round" />
<path d="M33.4,120.6 L47.5,135.4 L65.0,146.9 L83.0,158.5 L100.9,170.1 L118.9,181.7 L136.9,193.4 L155.3,204.3 L174.1,214.3 L193.1,224.2 L212.3,233.7 L231.4,243.1 L249.5,254.3 L267.5,265.5 L285.2,277.1 L302.6,289.6 L320.0,302.0 L337.7,314.0 L355.6,325.7 L373.6,337.3 L391.4,349.1 L408.5,361.9 L425.6,374.6" fill="none" stroke="#161616" stroke-width="10.588" stroke-linejoin="round" stroke-linecap="round" />
<path d="M27.0,150.0 L37.7,167.3 L53.3,179.8 L70.2,191.1 L87.1,202.4 L104.0,213.6 L120.9,224.9 L138.3,235.2 L156.5,244.3 L174.8,253.1 L193.3,261.4 L211.9,269.6 L228.4,281.3 L244.6,293.6 L260.7,306.0 L276.8,318.3 L293.0,330.6 L309.5,342.4 L326.4,353.6 L343.3,364.9 L360.2,376.2 L377.1,387.4 L394.0,398.7 L412.0,407.3 L432.0,411.0" fill="none" stroke="#161616" stroke-width="15.0" stroke-linejoin="round" stroke-linecap="round" />
<path d="M115.0,77.0 L94.9,128.2" fill="none" stroke="#161616" stroke-width="9.706" stroke-linejoin="round" stroke-linecap="round" />
<path d="M259.6,164.4 L229.8,207.9" fill="none" stroke="#161616" stroke-width="9.706" stroke-linejoin="round" stroke-linecap="round" />
<path d="M324.7,195.1 L288.7,239.3" fill="none" stroke="#161616" stroke-width="9.706" stroke-linejoin="round" stroke-linecap="round" />
<path d="M469.4,281.5 L420.4,324.0" fill="none" stroke="#161616" stroke-width="9.706" stroke-linejoin="round" stroke-linecap="round" />
<ellipse cx="92" cy="142" rx="16" ry="12" fill="#333" stroke="none" transform="rotate(30 92 142)"/>
<ellipse cx="280" cy="200" rx="20" ry="15" fill="#2a2a2a" stroke="none" transform="rotate(30 280 200)"/>
<ellipse cx="314" cy="274" rx="18" ry="13" fill="#333" stroke="none" transform="rotate(30 314 274)"/>
<path d="M150,240 L214,277" fill="none" stroke="#161616" stroke-width="19.412" stroke-linejoin="round" stroke-linecap="round" />
<path d="M405,352 L432,408" fill="none" stroke="#333" stroke-width="7.059" stroke-linejoin="round" stroke-linecap="round" />
<path d="M440,364 L520,384" fill="none" stroke="#555" stroke-width="6.176" stroke-linejoin="round" stroke-linecap="round" />
</g>
<g transform="translate(-161.5 385) translate(480 90) scale(0.166667)">
<path d="M148,68 Q158,54 186,62 L300,113 L402,160 Q446,186 466,212 L469,228 L447,238 L424,228 Q360,200 300,160 Q220,110 150,80 Z" fill="none" stroke="#333" stroke-width="11.4" stroke-linejoin="round" stroke-linecap="round" />
<path d="M148,68 Q158,54 186,62 L300,113 L402,160 Q446,186 466,212 L469,228 L447,238 L424,228 Q360,200 300,160 Q220,110 150,80 Z" fill="none" stroke="#9a9a9a" stroke-width="3.0" stroke-linejoin="round" stroke-linecap="round" />
<ellipse cx="452" cy="226" rx="7" ry="5" fill="#fff" stroke="#333" stroke-width="3.0" transform="rotate(20 452 226)"/>
</g>
<g transform="translate(252.5 235.5) translate(120.2 219.5) scale(1.075 1.12) translate(-120.2 -219.5) translate(85 190) scale(0.116667)">
<path d="M250,100 L272,86 L300,88 L385,115 L468,150 L488,166 L481,200 L500,220 L520,265 L514,292 L430,415 L400,432 L370,428 L100,310 L82,290 L82,265 L160,135 L185,118 L235,122 Z" fill="none" stroke="#333" stroke-width="16.286" stroke-linejoin="round" stroke-linecap="round" />
<path d="M250,100 L272,86 L300,88 L385,115 L468,150 L488,166 L481,200 L500,220 L520,265 L514,292 L430,415 L400,432 L370,428 L100,310 L82,290 L82,265 L160,135 L185,118 L235,122 Z" fill="none" stroke="#9a9a9a" stroke-width="4.286" stroke-linejoin="round" stroke-linecap="round" />
</g>
<g transform=" translate(480 225) scale(0.166667)">
<ellipse cx="161" cy="201" rx="98" ry="165" fill="none" stroke="#333" stroke-width="10.2" transform="rotate(22 161 201)"/>
<ellipse cx="161" cy="201" rx="98" ry="165" fill="none" stroke="#a5a5a5" stroke-width="2.7" transform="rotate(22 161 201)"/>
<path d="M146,66 L158,58" fill="none" stroke="#fff" stroke-width="3.6" stroke-linejoin="round" stroke-linecap="round" />
<path d="M150,352 L162,346" fill="none" stroke="#fff" stroke-width="3.6" stroke-linejoin="round" stroke-linecap="round" />
</g>
<g transform=" translate(480 225) scale(0.166667)">
<ellipse cx="363" cy="305" rx="114" ry="190" fill="#fff" stroke="#222" stroke-width="7.2" transform="rotate(9 363 305)"/>
<ellipse cx="379" cy="303" rx="114" ry="190" fill="#fff" stroke="#5a5a5a" stroke-width="4.2" transform="rotate(9 379 303)"/>
<ellipse cx="395" cy="301" rx="114" ry="190" fill="#fff" stroke="#5a5a5a" stroke-width="4.2" transform="rotate(9 395 301)"/>
<ellipse cx="409" cy="299" rx="114" ry="190" fill="#fff" stroke="#5a5a5a" stroke-width="4.2" transform="rotate(9 409 299)"/>
<ellipse cx="421" cy="297" rx="114" ry="190" fill="#fff" stroke="#161616" stroke-width="7.2" transform="rotate(9 421 297)"/>
<ellipse cx="408" cy="296" rx="91" ry="112" fill="#fff" stroke="#161616" stroke-width="7.8" transform="rotate(14 408 296)"/>
<ellipse cx="386" cy="121" rx="26" ry="24" fill="#fff" stroke="#161616" stroke-width="5.4"/>
<ellipse cx="400" cy="125" rx="28" ry="26" fill="#2a2a2a" stroke="#161616" stroke-width="4.8"/>
<ellipse cx="403" cy="127" rx="14" ry="13" fill="#c8c8c8" stroke="#111" stroke-width="3.0"/>
<ellipse cx="376" cy="482" rx="26" ry="24" fill="#fff" stroke="#161616" stroke-width="5.4"/>
<ellipse cx="390" cy="486" rx="28" ry="26" fill="#2a2a2a" stroke="#161616" stroke-width="4.8"/>
<ellipse cx="393" cy="488" rx="14" ry="13" fill="#c8c8c8" stroke="#111" stroke-width="3.0"/>
</g>
<g transform="translate(0 145.3) translate(480 225) scale(0.166667)">
<ellipse cx="161" cy="201" rx="98" ry="165" fill="none" stroke="#333" stroke-width="10.2" transform="rotate(22 161 201)"/>
<ellipse cx="161" cy="201" rx="98" ry="165" fill="none" stroke="#a5a5a5" stroke-width="2.7" transform="rotate(22 161 201)"/>
<path d="M146,66 L158,58" fill="none" stroke="#fff" stroke-width="3.6" stroke-linejoin="round" stroke-linecap="round" />
<path d="M150,352 L162,346" fill="none" stroke="#fff" stroke-width="3.6" stroke-linejoin="round" stroke-linecap="round" />
</g>
<g transform="translate(0 145.5) translate(480 225) scale(0.166667)">
<ellipse cx="363" cy="305" rx="114" ry="190" fill="#fff" stroke="#222" stroke-width="7.2" transform="rotate(9 363 305)"/>
<ellipse cx="379" cy="303" rx="114" ry="190" fill="#fff" stroke="#5a5a5a" stroke-width="4.2" transform="rotate(9 379 303)"/>
<ellipse cx="395" cy="301" rx="114" ry="190" fill="#fff" stroke="#5a5a5a" stroke-width="4.2" transform="rotate(9 395 301)"/>
<ellipse cx="409" cy="299" rx="114" ry="190" fill="#fff" stroke="#5a5a5a" stroke-width="4.2" transform="rotate(9 409 299)"/>
<ellipse cx="421" cy="297" rx="114" ry="190" fill="#fff" stroke="#161616" stroke-width="7.2" transform="rotate(9 421 297)"/>
<ellipse cx="408" cy="296" rx="91" ry="112" fill="#fff" stroke="#161616" stroke-width="7.8" transform="rotate(14 408 296)"/>
<ellipse cx="386" cy="121" rx="26" ry="24" fill="#fff" stroke="#161616" stroke-width="5.4"/>
<ellipse cx="400" cy="125" rx="28" ry="26" fill="#2a2a2a" stroke="#161616" stroke-width="4.8"/>
<ellipse cx="403" cy="127" rx="14" ry="13" fill="#c8c8c8" stroke="#111" stroke-width="3.0"/>
<ellipse cx="376" cy="482" rx="26" ry="24" fill="#fff" stroke="#161616" stroke-width="5.4"/>
<ellipse cx="390" cy="486" rx="28" ry="26" fill="#2a2a2a" stroke="#161616" stroke-width="4.8"/>
<ellipse cx="393" cy="488" rx="14" ry="13" fill="#c8c8c8" stroke="#111" stroke-width="3.0"/>
</g>
<g transform="translate(-78.6 231.5) translate(480 225) scale(0.166667)">
<ellipse cx="161" cy="201" rx="98" ry="165" fill="none" stroke="#333" stroke-width="10.2" transform="rotate(22 161 201)"/>
<ellipse cx="161" cy="201" rx="98" ry="165" fill="none" stroke="#a5a5a5" stroke-width="2.7" transform="rotate(22 161 201)"/>
<path d="M146,66 L158,58" fill="none" stroke="#fff" stroke-width="3.6" stroke-linejoin="round" stroke-linecap="round" />
<path d="M150,352 L162,346" fill="none" stroke="#fff" stroke-width="3.6" stroke-linejoin="round" stroke-linecap="round" />
</g>
<g transform=" translate(345 320) scale(0.166667)">
<path d="M50,90 L242,166 L215,198 L44,128 Q26,108 50,90 Z" fill="#fff" stroke="#161616" stroke-width="6.6" stroke-linejoin="round" stroke-linecap="round" />
<ellipse cx="227" cy="182" rx="11" ry="19" fill="#8a8a8a" stroke="#161616" stroke-width="4.2" transform="rotate(-50 227 182)"/>
<path d="M60,112 L205,172" fill="none" stroke="#bbb" stroke-width="2.4" stroke-linejoin="round" stroke-linecap="round" />
<path d="M50,223 L242,299 L215,331 L44,261 Q26,241 50,223 Z" fill="#fff" stroke="#161616" stroke-width="6.6" stroke-linejoin="round" stroke-linecap="round" />
<ellipse cx="227" cy="315" rx="11" ry="19" fill="#8a8a8a" stroke="#161616" stroke-width="4.2" transform="rotate(-50 227 315)"/>
<path d="M60,245 L205,305" fill="none" stroke="#bbb" stroke-width="2.4" stroke-linejoin="round" stroke-linecap="round" />
<ellipse cx="326" cy="228" rx="52" ry="89" fill="none" stroke="#161616" stroke-width="9.0" transform="rotate(19 326 228)"/>
<path d="M330,140 L338,152" fill="none" stroke="#fff" stroke-width="3.0" stroke-linejoin="round" stroke-linecap="round" />
<path d="M432,256 Q384,300 392,380 Q398,406 418,408 Q442,402 436,388 Q418,340 442,262 Z" fill="#fff" stroke="#161616" stroke-width="7.2" stroke-linejoin="round" stroke-linecap="round" />
<path d="M426,270 Q398,318 404,380" fill="none" stroke="#666" stroke-width="3.0" stroke-linejoin="round" stroke-linecap="round" />
<ellipse cx="412" cy="348" rx="5" ry="6" fill="#161616" stroke="none"/>
</g>
<polygon points="423.19,385.10 430.69,387.50 431.91,383.70 424.41,381.30" fill="#3a3a3a" stroke="#1a1a1a" stroke-width="0.6" stroke-linejoin="round"/>
<line x1="425.19" y1="385.32" x2="426.16" y2="382.28" stroke="#c8c8c8" stroke-width="0.45"/>
<line x1="427.06" y1="385.92" x2="428.04" y2="382.88" stroke="#c8c8c8" stroke-width="0.45"/>
<line x1="428.94" y1="386.52" x2="429.91" y2="383.48" stroke="#c8c8c8" stroke-width="0.45"/>
<ellipse cx="433.87" cy="386.42" rx="3.60" ry="3.70" fill="#161616" transform="rotate(17.7 433.87 386.42)"/>
<ellipse cx="434.92" cy="386.76" rx="0.9" ry="1.4" fill="none" stroke="#bbb" stroke-width="0.4" transform="rotate(17.7 434.92 386.76)"/>
<polygon points="473.87,388.35 481.07,391.35 482.53,387.85 475.33,384.85" fill="#3a3a3a" stroke="#1a1a1a" stroke-width="0.6" stroke-linejoin="round"/>
<line x1="475.82" y1="388.75" x2="476.98" y2="385.95" stroke="#c8c8c8" stroke-width="0.45"/>
<line x1="477.62" y1="389.50" x2="478.78" y2="386.70" stroke="#c8c8c8" stroke-width="0.45"/>
<line x1="479.42" y1="390.25" x2="480.58" y2="387.45" stroke="#c8c8c8" stroke-width="0.45"/>
<ellipse cx="484.11" cy="390.56" rx="3.40" ry="3.50" fill="#161616" transform="rotate(22.6 484.11 390.56)"/>
<ellipse cx="485.12" cy="390.98" rx="0.9" ry="1.4" fill="none" stroke="#bbb" stroke-width="0.4" transform="rotate(22.6 485.12 390.98)"/>
<polygon points="473.10,398.97 479.90,401.67 481.30,398.13 474.50,395.43" fill="#3a3a3a" stroke="#1a1a1a" stroke-width="0.6" stroke-linejoin="round"/>
<line x1="474.94" y1="399.29" x2="476.06" y2="396.46" stroke="#c8c8c8" stroke-width="0.45"/>
<line x1="476.64" y1="399.96" x2="477.76" y2="397.14" stroke="#c8c8c8" stroke-width="0.45"/>
<line x1="478.34" y1="400.64" x2="479.46" y2="397.81" stroke="#c8c8c8" stroke-width="0.45"/>
<ellipse cx="482.92" cy="400.82" rx="3.40" ry="3.50" fill="#161616" transform="rotate(21.7 482.92 400.82)"/>
<ellipse cx="483.95" cy="401.23" rx="0.9" ry="1.4" fill="none" stroke="#bbb" stroke-width="0.4" transform="rotate(21.7 483.95 401.23)"/>
<polygon points="571.74,406.85 578.84,409.75 580.36,406.05 573.26,403.15" fill="#3a3a3a" stroke="#1a1a1a" stroke-width="0.6" stroke-linejoin="round"/>
<line x1="573.67" y1="407.21" x2="574.88" y2="404.24" stroke="#c8c8c8" stroke-width="0.45"/>
<line x1="575.44" y1="407.93" x2="576.66" y2="404.97" stroke="#c8c8c8" stroke-width="0.45"/>
<line x1="577.22" y1="408.66" x2="578.43" y2="405.69" stroke="#c8c8c8" stroke-width="0.45"/>
<ellipse cx="582.19" cy="408.96" rx="3.70" ry="3.70" fill="#161616" transform="rotate(22.2 582.19 408.96)"/>
<ellipse cx="583.21" cy="409.37" rx="0.9" ry="1.4" fill="none" stroke="#bbb" stroke-width="0.4" transform="rotate(22.2 583.21 409.37)"/>
<polygon points="569.17,462.20 576.97,464.80 578.23,461.00 570.43,458.40" fill="#3a3a3a" stroke="#1a1a1a" stroke-width="0.6" stroke-linejoin="round"/>
<line x1="570.85" y1="462.34" x2="571.87" y2="459.30" stroke="#c8c8c8" stroke-width="0.45"/>
<line x1="572.41" y1="462.86" x2="573.43" y2="459.82" stroke="#c8c8c8" stroke-width="0.45"/>
<line x1="573.97" y1="463.38" x2="574.99" y2="460.34" stroke="#c8c8c8" stroke-width="0.45"/>
<line x1="575.53" y1="463.90" x2="576.55" y2="460.86" stroke="#c8c8c8" stroke-width="0.45"/>
<ellipse cx="580.26" cy="463.79" rx="3.70" ry="3.70" fill="#161616" transform="rotate(18.4 580.26 463.79)"/>
<ellipse cx="581.30" cy="464.13" rx="0.9" ry="1.4" fill="none" stroke="#bbb" stroke-width="0.4" transform="rotate(18.4 581.30 464.13)"/>
<line x1="551.5" y1="393.8" x2="572.5" y2="405" stroke="#333" stroke-width="0.6" />
<g transform=" translate(435 345) scale(0.125000)">
<ellipse cx="180" cy="312" rx="100" ry="168" fill="#fff" stroke="#161616" stroke-width="16.0" transform="rotate(19 180 312)"/>
<ellipse cx="180" cy="312" rx="109" ry="177" fill="none" stroke="#161616" stroke-width="18.4" stroke-dasharray="14.5 14.3" transform="rotate(19 180 312)"/>
<ellipse cx="182" cy="312" rx="86" ry="152" fill="none" stroke="#555" stroke-width="4.0" transform="rotate(19 182 312)"/>
<ellipse cx="236" cy="228" rx="18" ry="28" fill="#fff" stroke="#161616" stroke-width="11.2" transform="rotate(19 236 228)"/>
<ellipse cx="228" cy="347" rx="18" ry="28" fill="#fff" stroke="#161616" stroke-width="11.2" transform="rotate(19 228 347)"/>
<ellipse cx="236" cy="228" rx="8" ry="15" fill="#ccc" stroke="#444" stroke-width="4.0" transform="rotate(19 236 228)"/>
<ellipse cx="228" cy="347" rx="8" ry="15" fill="#ccc" stroke="#444" stroke-width="4.0" transform="rotate(19 228 347)"/>
<ellipse cx="196" cy="226" rx="9" ry="15" fill="#777" stroke="#161616" stroke-width="7.2" transform="rotate(19 196 226)"/>
<ellipse cx="186" cy="402" rx="9" ry="15" fill="#777" stroke="#161616" stroke-width="7.2" transform="rotate(19 186 402)"/>
<path d="M120,328 L180,308 L196,280 L206,296 L196,330 L204,356 L186,362 L172,338 L130,356 Z" fill="#3a3a3a" stroke="#161616" stroke-width="6.4" stroke-linejoin="round" stroke-linecap="round" />
<path d="M140,334 L176,322" fill="none" stroke="#ddd" stroke-width="4.0" stroke-linejoin="round" stroke-linecap="round" />
<ellipse cx="190" cy="318" rx="7" ry="10" fill="#ddd" stroke="none"/>
</g>
<g transform="translate(94.3 284.4) rotate(-5.1) scale(1.0)">
<line x1="0" y1="0" x2="87" y2="0" stroke="#222" stroke-width="0.8"/>
<ellipse cx="87" cy="0" rx="5.2" ry="6.3" fill="#161616"/>
<ellipse cx="86.4" cy="0" rx="2.8" ry="3.7" fill="#e6e6e6" stroke="#777" stroke-width="0.5"/>
<ellipse cx="86.1" cy="0" rx="1.2" ry="1.9" fill="#555"/>
<rect x="63.5" y="-4" width="7.8" height="8" rx="2.6" fill="#fff" stroke="#161616" stroke-width="0.9"/>
<path d="M67.6,-4 L66.1,-4 Q63.5,-4 63.5,-1.4 L63.5,1.4 Q63.5,4 66.1,4 L67.6,4 Q65.7,0 67.6,-4 Z" fill="#161616"/>
<ellipse cx="52.80" cy="0" rx="2.7" ry="6.3" fill="#fff" stroke="#161616" stroke-width="1.75"/>
<ellipse cx="49.71" cy="0" rx="2.7" ry="6.3" fill="#fff" stroke="#161616" stroke-width="1.75"/>
<ellipse cx="46.63" cy="0" rx="2.7" ry="6.3" fill="#fff" stroke="#161616" stroke-width="1.75"/>
<ellipse cx="43.54" cy="0" rx="2.7" ry="6.3" fill="#fff" stroke="#161616" stroke-width="1.75"/>
<ellipse cx="40.46" cy="0" rx="2.7" ry="6.3" fill="#fff" stroke="#161616" stroke-width="1.75"/>
<ellipse cx="37.37" cy="0" rx="2.7" ry="6.3" fill="#fff" stroke="#161616" stroke-width="1.75"/>
<ellipse cx="34.29" cy="0" rx="2.7" ry="6.3" fill="#fff" stroke="#161616" stroke-width="1.75"/>
<ellipse cx="31.20" cy="0" rx="2.7" ry="6.3" fill="#fff" stroke="#161616" stroke-width="1.75"/>
<ellipse cx="31.20" cy="0" rx="1.7000000000000002" ry="4.6" fill="#555" stroke="#161616" stroke-width="0.6"/>
<ellipse cx="31.00" cy="0" rx="0.9" ry="2.2" fill="#eee"/>
<line x1="31.2" y1="-6.3" x2="52.8" y2="-6.3" stroke="#161616" stroke-width="1.0"/>
<line x1="31.2" y1="6.3" x2="52.8" y2="6.3" stroke="#161616" stroke-width="1.0"/>
<ellipse cx="17.2" cy="0" rx="3.2" ry="4.6" fill="#fff" stroke="#161616" stroke-width="0.8"/>
<ellipse cx="15.9" cy="0" rx="4.9" ry="6.0" fill="#2a2a2a" stroke="#161616" stroke-width="0.7"/>
<ellipse cx="15.6" cy="0" rx="2.1" ry="3.0" fill="#e2e2e2" stroke="#999" stroke-width="0.4"/>
<ellipse cx="15.6" cy="0" rx="0.8" ry="1.2" fill="#444"/>
<ellipse cx="0" cy="0" rx="3.0" ry="3.2" fill="#161616"/>
<line x1="-2.4" y1="0.2" x2="2.4" y2="0.2" stroke="#fff" stroke-width="0.7"/>
<ellipse cx="-0.8" cy="-1.3" rx="0.9" ry="0.6" fill="#ddd"/>
</g>
<g transform="translate(127.2 299.6) rotate(-4.6) scale(1.0)">
<line x1="0" y1="0" x2="87" y2="0" stroke="#222" stroke-width="0.8"/>
<ellipse cx="87" cy="0" rx="5.2" ry="6.3" fill="#161616"/>
<ellipse cx="86.4" cy="0" rx="2.8" ry="3.7" fill="#e6e6e6" stroke="#777" stroke-width="0.5"/>
<ellipse cx="86.1" cy="0" rx="1.2" ry="1.9" fill="#555"/>
<rect x="63.5" y="-4" width="7.8" height="8" rx="2.6" fill="#fff" stroke="#161616" stroke-width="0.9"/>
<path d="M67.6,-4 L66.1,-4 Q63.5,-4 63.5,-1.4 L63.5,1.4 Q63.5,4 66.1,4 L67.6,4 Q65.7,0 67.6,-4 Z" fill="#161616"/>
<ellipse cx="52.80" cy="0" rx="2.7" ry="6.3" fill="#fff" stroke="#161616" stroke-width="1.75"/>
<ellipse cx="49.71" cy="0" rx="2.7" ry="6.3" fill="#fff" stroke="#161616" stroke-width="1.75"/>
<ellipse cx="46.63" cy="0" rx="2.7" ry="6.3" fill="#fff" stroke="#161616" stroke-width="1.75"/>
<ellipse cx="43.54" cy="0" rx="2.7" ry="6.3" fill="#fff" stroke="#161616" stroke-width="1.75"/>
<ellipse cx="40.46" cy="0" rx="2.7" ry="6.3" fill="#fff" stroke="#161616" stroke-width="1.75"/>
<ellipse cx="37.37" cy="0" rx="2.7" ry="6.3" fill="#fff" stroke="#161616" stroke-width="1.75"/>
<ellipse cx="34.29" cy="0" rx="2.7" ry="6.3" fill="#fff" stroke="#161616" stroke-width="1.75"/>
<ellipse cx="31.20" cy="0" rx="2.7" ry="6.3" fill="#fff" stroke="#161616" stroke-width="1.75"/>
<ellipse cx="31.20" cy="0" rx="1.7000000000000002" ry="4.6" fill="#555" stroke="#161616" stroke-width="0.6"/>
<ellipse cx="31.00" cy="0" rx="0.9" ry="2.2" fill="#eee"/>
<line x1="31.2" y1="-6.3" x2="52.8" y2="-6.3" stroke="#161616" stroke-width="1.0"/>
<line x1="31.2" y1="6.3" x2="52.8" y2="6.3" stroke="#161616" stroke-width="1.0"/>
<ellipse cx="17.2" cy="0" rx="3.2" ry="4.6" fill="#fff" stroke="#161616" stroke-width="0.8"/>
<ellipse cx="15.9" cy="0" rx="4.9" ry="6.0" fill="#2a2a2a" stroke="#161616" stroke-width="0.7"/>
<ellipse cx="15.6" cy="0" rx="2.1" ry="3.0" fill="#e2e2e2" stroke="#999" stroke-width="0.4"/>
<ellipse cx="15.6" cy="0" rx="0.8" ry="1.2" fill="#444"/>
<ellipse cx="0" cy="0" rx="3.0" ry="3.2" fill="#161616"/>
<line x1="-2.4" y1="0.2" x2="2.4" y2="0.2" stroke="#fff" stroke-width="0.7"/>
<ellipse cx="-0.8" cy="-1.3" rx="0.9" ry="0.6" fill="#ddd"/>
</g>
<g transform="translate(177 402) rotate(-46.3) scale(1.0)">
<line x1="0" y1="0" x2="80" y2="0" stroke="#222" stroke-width="0.8"/>
<ellipse cx="80" cy="0" rx="5.2" ry="6.3" fill="#161616"/>
<ellipse cx="79.4" cy="0" rx="2.8" ry="3.7" fill="#e6e6e6" stroke="#777" stroke-width="0.5"/>
<ellipse cx="79.1" cy="0" rx="1.2" ry="1.9" fill="#555"/>
<rect x="62.2" y="-4" width="7.8" height="8" rx="2.6" fill="#fff" stroke="#161616" stroke-width="0.9"/>
<path d="M66.3,-4 L64.8,-4 Q62.2,-4 62.2,-1.4 L62.2,1.4 Q62.2,4 64.8,4 L66.3,4 Q64.4,0 66.3,-4 Z" fill="#161616"/>
<ellipse cx="53.30" cy="0" rx="2.7" ry="7.0" fill="#fff" stroke="#161616" stroke-width="1.75"/>
<ellipse cx="49.86" cy="0" rx="2.7" ry="7.0" fill="#fff" stroke="#161616" stroke-width="1.75"/>
<ellipse cx="46.41" cy="0" rx="2.7" ry="7.0" fill="#fff" stroke="#161616" stroke-width="1.75"/>
<ellipse cx="42.97" cy="0" rx="2.7" ry="7.0" fill="#fff" stroke="#161616" stroke-width="1.75"/>
<ellipse cx="39.53" cy="0" rx="2.7" ry="7.0" fill="#fff" stroke="#161616" stroke-width="1.75"/>
<ellipse cx="36.09" cy="0" rx="2.7" ry="7.0" fill="#fff" stroke="#161616" stroke-width="1.75"/>
<ellipse cx="32.64" cy="0" rx="2.7" ry="7.0" fill="#fff" stroke="#161616" stroke-width="1.75"/>
<ellipse cx="29.20" cy="0" rx="2.7" ry="7.0" fill="#fff" stroke="#161616" stroke-width="1.75"/>
<ellipse cx="29.20" cy="0" rx="1.7000000000000002" ry="5.3" fill="#555" stroke="#161616" stroke-width="0.6"/>
<ellipse cx="29.00" cy="0" rx="0.9" ry="2.2" fill="#eee"/>
<line x1="29.2" y1="-7.0" x2="53.3" y2="-7.0" stroke="#161616" stroke-width="1.0"/>
<line x1="29.2" y1="7.0" x2="53.3" y2="7.0" stroke="#161616" stroke-width="1.0"/>
<ellipse cx="16.0" cy="0" rx="3.2" ry="4.6" fill="#fff" stroke="#161616" stroke-width="0.8"/>
<ellipse cx="14.7" cy="0" rx="4.9" ry="6.0" fill="#2a2a2a" stroke="#161616" stroke-width="0.7"/>
<ellipse cx="14.399999999999999" cy="0" rx="2.1" ry="3.0" fill="#e2e2e2" stroke="#999" stroke-width="0.4"/>
<ellipse cx="14.399999999999999" cy="0" rx="0.8" ry="1.2" fill="#444"/>
<ellipse cx="0" cy="0" rx="3.0" ry="3.2" fill="#161616"/>
<line x1="-2.4" y1="0.2" x2="2.4" y2="0.2" stroke="#fff" stroke-width="0.7"/>
<ellipse cx="-0.8" cy="-1.3" rx="0.9" ry="0.6" fill="#ddd"/>
</g>
<g transform="translate(197 411.7) rotate(-46.3) scale(1.0)">
<line x1="0" y1="0" x2="80" y2="0" stroke="#222" stroke-width="0.8"/>
<ellipse cx="80" cy="0" rx="5.2" ry="6.3" fill="#161616"/>
<ellipse cx="79.4" cy="0" rx="2.8" ry="3.7" fill="#e6e6e6" stroke="#777" stroke-width="0.5"/>
<ellipse cx="79.1" cy="0" rx="1.2" ry="1.9" fill="#555"/>
<rect x="62.2" y="-4" width="7.8" height="8" rx="2.6" fill="#fff" stroke="#161616" stroke-width="0.9"/>
<path d="M66.3,-4 L64.8,-4 Q62.2,-4 62.2,-1.4 L62.2,1.4 Q62.2,4 64.8,4 L66.3,4 Q64.4,0 66.3,-4 Z" fill="#161616"/>
<ellipse cx="53.30" cy="0" rx="2.7" ry="7.0" fill="#fff" stroke="#161616" stroke-width="1.75"/>
<ellipse cx="49.86" cy="0" rx="2.7" ry="7.0" fill="#fff" stroke="#161616" stroke-width="1.75"/>
<ellipse cx="46.41" cy="0" rx="2.7" ry="7.0" fill="#fff" stroke="#161616" stroke-width="1.75"/>
<ellipse cx="42.97" cy="0" rx="2.7" ry="7.0" fill="#fff" stroke="#161616" stroke-width="1.75"/>
<ellipse cx="39.53" cy="0" rx="2.7" ry="7.0" fill="#fff" stroke="#161616" stroke-width="1.75"/>
<ellipse cx="36.09" cy="0" rx="2.7" ry="7.0" fill="#fff" stroke="#161616" stroke-width="1.75"/>
<ellipse cx="32.64" cy="0" rx="2.7" ry="7.0" fill="#fff" stroke="#161616" stroke-width="1.75"/>
<ellipse cx="29.20" cy="0" rx="2.7" ry="7.0" fill="#fff" stroke="#161616" stroke-width="1.75"/>
<ellipse cx="29.20" cy="0" rx="1.7000000000000002" ry="5.3" fill="#555" stroke="#161616" stroke-width="0.6"/>
<ellipse cx="29.00" cy="0" rx="0.9" ry="2.2" fill="#eee"/>
<line x1="29.2" y1="-7.0" x2="53.3" y2="-7.0" stroke="#161616" stroke-width="1.0"/>
<line x1="29.2" y1="7.0" x2="53.3" y2="7.0" stroke="#161616" stroke-width="1.0"/>
<ellipse cx="16.0" cy="0" rx="3.2" ry="4.6" fill="#fff" stroke="#161616" stroke-width="0.8"/>
<ellipse cx="14.7" cy="0" rx="4.9" ry="6.0" fill="#2a2a2a" stroke="#161616" stroke-width="0.7"/>
<ellipse cx="14.399999999999999" cy="0" rx="2.1" ry="3.0" fill="#e2e2e2" stroke="#999" stroke-width="0.4"/>
<ellipse cx="14.399999999999999" cy="0" rx="0.8" ry="1.2" fill="#444"/>
<ellipse cx="0" cy="0" rx="3.0" ry="3.2" fill="#161616"/>
<line x1="-2.4" y1="0.2" x2="2.4" y2="0.2" stroke="#fff" stroke-width="0.7"/>
<ellipse cx="-0.8" cy="-1.3" rx="0.9" ry="0.6" fill="#ddd"/>
</g>
<g transform="rotate(-32 30.5 375.9)">
<ellipse cx="30.5" cy="375.9" rx="4.1" ry="5.2" fill="#f2f2f2" stroke="#161616" stroke-width="1.3"/>
<ellipse cx="30.7" cy="376.2" rx="1.8" ry="2.6" fill="#fff" stroke="#161616" stroke-width="1.0"/>
</g>
<g transform="rotate(-32 63.8 389.8)">
<ellipse cx="63.8" cy="389.8" rx="4.1" ry="5.2" fill="#f2f2f2" stroke="#161616" stroke-width="1.3"/>
<ellipse cx="64.0" cy="390.1" rx="1.8" ry="2.6" fill="#fff" stroke="#161616" stroke-width="1.0"/>
</g>
<g transform="rotate(-32 28.5 414.7)">
<ellipse cx="28.5" cy="414.7" rx="4.1" ry="5.2" fill="#f2f2f2" stroke="#161616" stroke-width="1.3"/>
<ellipse cx="28.7" cy="415.0" rx="1.8" ry="2.6" fill="#fff" stroke="#161616" stroke-width="1.0"/>
</g>
<g transform="rotate(-32 60.9 430.5)">
<ellipse cx="60.9" cy="430.5" rx="4.1" ry="5.2" fill="#f2f2f2" stroke="#161616" stroke-width="1.3"/>
<ellipse cx="61.1" cy="430.8" rx="1.8" ry="2.6" fill="#fff" stroke="#161616" stroke-width="1.0"/>
</g>
<ellipse cx="91.8" cy="339.0" rx="4.8" ry="2.2" fill="#161616" transform="rotate(0 91.8 339.0)"/>
<line x1="89.3" y1="338.5" x2="93.8" y2="338.4" stroke="#777" stroke-width="0.4" transform="rotate(0 91.8 339.0)"/>
<ellipse cx="106.0" cy="345.0" rx="4.8" ry="2.2" fill="#161616" transform="rotate(0 106.0 345.0)"/>
<line x1="103.5" y1="344.5" x2="108.0" y2="344.4" stroke="#777" stroke-width="0.4" transform="rotate(0 106.0 345.0)"/>
<polygon points="108.84,337.31 106.33,340.45 102.49,339.74 101.16,335.89 103.67,332.75 107.51,333.46" fill="#2a2a2a" stroke="#161616" stroke-width="0.6" stroke-linejoin="round"/>
<ellipse cx="105.2" cy="336.40000000000003" rx="1.4" ry="1.5" fill="#9a9a9a" stroke="#111" stroke-width="0.4"/>
<path d="M102.2,335.1 L104.0,333.40000000000003" stroke="#bbb" stroke-width="0.5"/>
<polygon points="122.54,343.11 120.03,346.25 116.19,345.54 114.86,341.69 117.37,338.55 121.21,339.26" fill="#2a2a2a" stroke="#161616" stroke-width="0.6" stroke-linejoin="round"/>
<ellipse cx="118.9" cy="342.2" rx="1.4" ry="1.5" fill="#9a9a9a" stroke="#111" stroke-width="0.4"/>
<path d="M115.9,340.9 L117.7,339.2" stroke="#bbb" stroke-width="0.5"/>
<ellipse cx="94.8" cy="422.8" rx="4.8" ry="2.2" fill="#161616" transform="rotate(-22 94.8 422.8)"/>
<line x1="92.3" y1="422.3" x2="96.8" y2="422.2" stroke="#777" stroke-width="0.4" transform="rotate(-22 94.8 422.8)"/>
<ellipse cx="106.0" cy="428.2" rx="4.8" ry="2.2" fill="#161616" transform="rotate(-22 106.0 428.2)"/>
<line x1="103.5" y1="427.7" x2="108.0" y2="427.59999999999997" stroke="#777" stroke-width="0.4" transform="rotate(-22 106.0 428.2)"/>
<polygon points="112.54,416.51 110.03,419.65 106.19,418.94 104.86,415.09 107.37,411.95 111.21,412.66" fill="#2a2a2a" stroke="#161616" stroke-width="0.6" stroke-linejoin="round"/>
<ellipse cx="108.9" cy="415.6" rx="1.4" ry="1.5" fill="#9a9a9a" stroke="#111" stroke-width="0.4"/>
<path d="M105.9,414.3 L107.7,412.6" stroke="#bbb" stroke-width="0.5"/>
<polygon points="127.14,423.21 124.63,426.35 120.79,425.64 119.46,421.79 121.97,418.65 125.81,419.36" fill="#2a2a2a" stroke="#161616" stroke-width="0.6" stroke-linejoin="round"/>
<ellipse cx="123.5" cy="422.3" rx="1.4" ry="1.5" fill="#9a9a9a" stroke="#111" stroke-width="0.4"/>
<path d="M120.5,421.0 L122.3,419.3" stroke="#bbb" stroke-width="0.5"/>
<g transform=" translate(85 315) scale(0.149999)">
<path d="M262,240 Q260,200 298,172 L318,118 L330,72 L372,72 L378,120 L364,166 L416,124 L462,130 L466,160 L424,188 Q444,212 430,248 L384,300 Q340,332 292,298 Q264,272 262,240 Z" fill="#fff" stroke="#161616" stroke-width="8.0" stroke-linejoin="round" stroke-linecap="round" />
<path d="M300,222 Q340,186 404,196" fill="none" stroke="#161616" stroke-width="6.0" stroke-linejoin="round" stroke-linecap="round" />
<path d="M318,240 Q330,280 372,296" fill="none" stroke="#555" stroke-width="4.0" stroke-linejoin="round" stroke-linecap="round" />
<path d="M330,130 L352,170 L364,166" fill="none" stroke="#161616" stroke-width="5.333" stroke-linejoin="round" stroke-linecap="round" />
<path d="M340,118 L342,160" fill="none" stroke="#161616" stroke-width="8.667" stroke-linejoin="round" stroke-linecap="round" />
<ellipse cx="350" cy="97" rx="27" ry="27" fill="#fff" stroke="#161616" stroke-width="8.667"/>
<ellipse cx="352" cy="97" rx="14" ry="15" fill="#e0e0e0" stroke="#333" stroke-width="4.0"/>
<ellipse cx="353" cy="98" rx="5" ry="6" fill="#333" stroke="none"/>
<ellipse cx="440" cy="141" rx="27" ry="27" fill="#fff" stroke="#161616" stroke-width="8.667"/>
<ellipse cx="442" cy="141" rx="14" ry="15" fill="#e0e0e0" stroke="#333" stroke-width="4.0"/>
<ellipse cx="443" cy="142" rx="5" ry="6" fill="#333" stroke="none"/>
<ellipse cx="410" cy="236" rx="17" ry="26" fill="#eee" stroke="#161616" stroke-width="6.0" transform="rotate(15 410 236)"/>
<ellipse cx="368" cy="284" rx="12" ry="13" fill="#161616" stroke="none"/>
<path d="M284,196 L296,222" fill="none" stroke="#161616" stroke-width="5.333" stroke-linejoin="round" stroke-linecap="round" />
</g>
<g transform=" translate(85 370) scale(0.149999)">
<path d="M288,100 Q300,55 342,36 L398,58 Q416,78 398,108 L378,140 Q372,175 350,190 L335,200 L352,236 Q386,262 380,300 Q365,332 335,318 Q316,300 328,276 L300,236 L282,226 Q280,262 250,272 Q224,262 232,238 Q240,220 262,222 L256,200 L262,166 L245,167 Q228,140 240,108 L270,95 Z" fill="#fff" stroke="#161616" stroke-width="8.0" stroke-linejoin="round" stroke-linecap="round" />
<path d="M302,82 Q318,60 346,52" fill="none" stroke="#161616" stroke-width="6.0" stroke-linejoin="round" stroke-linecap="round" />
<path d="M322,70 L386,96" fill="none" stroke="#444" stroke-width="4.667" stroke-linejoin="round" stroke-linecap="round" />
<path d="M300,110 Q296,160 318,196" fill="none" stroke="#161616" stroke-width="6.0" stroke-linejoin="round" stroke-linecap="round" />
<path d="M270,100 L264,164" fill="none" stroke="#161616" stroke-width="5.333" stroke-linejoin="round" stroke-linecap="round" />
<ellipse cx="383" cy="92" rx="8" ry="14" fill="#333" stroke="#161616" stroke-width="4.0" transform="rotate(15 383 92)"/>
<ellipse cx="350" cy="166" rx="13" ry="20" fill="#eee" stroke="#161616" stroke-width="6.0" transform="rotate(20 350 166)"/>
<path d="M322,196 L340,232" fill="none" stroke="#161616" stroke-width="5.333" stroke-linejoin="round" stroke-linecap="round" />
<ellipse cx="250" cy="248" rx="21" ry="22" fill="#fff" stroke="#161616" stroke-width="8.0"/>
<ellipse cx="252" cy="249" rx="9" ry="10" fill="#ddd" stroke="#333" stroke-width="3.333"/>
<ellipse cx="350" cy="296" rx="26" ry="26" fill="#fff" stroke="#161616" stroke-width="8.667"/>
<ellipse cx="352" cy="297" rx="12" ry="13" fill="#ddd" stroke="#333" stroke-width="4.0"/>
</g>
<polygon points="137.82,477.59 142.82,469.39 139.58,467.41 134.58,475.61" fill="#4a4a4a" stroke="#1a1a1a" stroke-width="0.6" stroke-linejoin="round"/>
<line x1="139.06" y1="474.41" x2="136.84" y2="473.05" stroke="#d0d0d0" stroke-width="0.5"/>
<line x1="140.06" y1="472.77" x2="137.84" y2="471.41" stroke="#d0d0d0" stroke-width="0.5"/>
<line x1="141.06" y1="471.13" x2="138.84" y2="469.77" stroke="#d0d0d0" stroke-width="0.5"/>
<line x1="141.91" y1="469.73" x2="139.69" y2="468.38" stroke="#d0d0d0" stroke-width="0.5"/>
<ellipse cx="136.2" cy="476.6" rx="2.1" ry="3.8" fill="#161616" transform="rotate(-58.6 136.2 476.6)"/>
<ellipse cx="135.73" cy="477.37" rx="1.7" ry="3.3" fill="#333" stroke="#161616" stroke-width="0.5" transform="rotate(-58.6 135.73 477.37)"/>
<polygon points="149.79,492.65 155.59,483.85 152.41,481.75 146.61,490.55" fill="#4a4a4a" stroke="#1a1a1a" stroke-width="0.6" stroke-linejoin="round"/>
<line x1="151.32" y1="489.24" x2="149.14" y2="487.80" stroke="#d0d0d0" stroke-width="0.5"/>
<line x1="152.48" y1="487.48" x2="150.30" y2="486.04" stroke="#d0d0d0" stroke-width="0.5"/>
<line x1="153.64" y1="485.72" x2="151.46" y2="484.28" stroke="#d0d0d0" stroke-width="0.5"/>
<line x1="154.62" y1="484.22" x2="152.45" y2="482.79" stroke="#d0d0d0" stroke-width="0.5"/>
<ellipse cx="148.2" cy="491.6" rx="2.1" ry="3.8" fill="#161616" transform="rotate(-56.6 148.2 491.6)"/>
<ellipse cx="147.70" cy="492.35" rx="1.7" ry="3.3" fill="#333" stroke="#161616" stroke-width="0.5" transform="rotate(-56.6 147.70 492.35)"/>
<polygon points="168.02,489.60 173.22,481.20 169.98,479.20 164.78,487.60" fill="#4a4a4a" stroke="#1a1a1a" stroke-width="0.6" stroke-linejoin="round"/>
<line x1="169.33" y1="486.34" x2="167.11" y2="484.98" stroke="#d0d0d0" stroke-width="0.5"/>
<line x1="170.37" y1="484.66" x2="168.15" y2="483.30" stroke="#d0d0d0" stroke-width="0.5"/>
<line x1="171.41" y1="482.98" x2="169.19" y2="481.62" stroke="#d0d0d0" stroke-width="0.5"/>
<line x1="172.29" y1="481.56" x2="170.08" y2="480.19" stroke="#d0d0d0" stroke-width="0.5"/>
<ellipse cx="166.4" cy="488.6" rx="2.1" ry="3.8" fill="#161616" transform="rotate(-58.2 166.4 488.6)"/>
<ellipse cx="165.93" cy="489.37" rx="1.7" ry="3.3" fill="#333" stroke="#161616" stroke-width="0.5" transform="rotate(-58.2 165.93 489.37)"/>
<polygon points="184.79,507.65 190.59,498.85 187.41,496.75 181.61,505.55" fill="#4a4a4a" stroke="#1a1a1a" stroke-width="0.6" stroke-linejoin="round"/>
<line x1="186.32" y1="504.24" x2="184.14" y2="502.80" stroke="#d0d0d0" stroke-width="0.5"/>
<line x1="187.48" y1="502.48" x2="185.30" y2="501.04" stroke="#d0d0d0" stroke-width="0.5"/>
<line x1="188.64" y1="500.72" x2="186.46" y2="499.28" stroke="#d0d0d0" stroke-width="0.5"/>
<line x1="189.62" y1="499.22" x2="187.45" y2="497.79" stroke="#d0d0d0" stroke-width="0.5"/>
<ellipse cx="183.2" cy="506.6" rx="2.1" ry="3.8" fill="#161616" transform="rotate(-56.6 183.2 506.6)"/>
<ellipse cx="182.70" cy="507.35" rx="1.7" ry="3.3" fill="#333" stroke="#161616" stroke-width="0.5" transform="rotate(-56.6 182.70 507.35)"/>
<g transform=" translate(240 375) scale(0.158333)">
<path d="M84,84 Q102,72 120,84 L120,262 Q102,274 84,262 Z" fill="#fff" stroke="#161616" stroke-width="6.947" stroke-linejoin="round" stroke-linecap="round" />
<path d="M86,84 L118,86" fill="none" stroke="#222" stroke-width="6.316" stroke-linejoin="round" stroke-linecap="round" />
<path d="M86,92 L118,94" fill="none" stroke="#222" stroke-width="6.316" stroke-linejoin="round" stroke-linecap="round" />
<path d="M86,100 L118,102" fill="none" stroke="#222" stroke-width="6.316" stroke-linejoin="round" stroke-linecap="round" />
<path d="M86,108 L118,110" fill="none" stroke="#222" stroke-width="6.316" stroke-linejoin="round" stroke-linecap="round" />
<path d="M86,116 L118,118" fill="none" stroke="#222" stroke-width="6.316" stroke-linejoin="round" stroke-linecap="round" />
<path d="M86,124 L118,126" fill="none" stroke="#222" stroke-width="6.316" stroke-linejoin="round" stroke-linecap="round" />
<path d="M86,224 L118,226" fill="none" stroke="#222" stroke-width="6.316" stroke-linejoin="round" stroke-linecap="round" />
<path d="M86,232 L118,234" fill="none" stroke="#222" stroke-width="6.316" stroke-linejoin="round" stroke-linecap="round" />
<path d="M86,240 L118,242" fill="none" stroke="#222" stroke-width="6.316" stroke-linejoin="round" stroke-linecap="round" />
<path d="M86,248 L118,250" fill="none" stroke="#222" stroke-width="6.316" stroke-linejoin="round" stroke-linecap="round" />
<path d="M86,256 L118,258" fill="none" stroke="#222" stroke-width="6.316" stroke-linejoin="round" stroke-linecap="round" />
<path d="M86,264 L118,266" fill="none" stroke="#222" stroke-width="6.316" stroke-linejoin="round" stroke-linecap="round" />
<path d="M109,134 L109,224" fill="none" stroke="#888" stroke-width="3.789" stroke-linejoin="round" stroke-linecap="round" />
<path d="M278,62 Q296,50 314,62 L314,240 Q296,252 278,240 Z" fill="#fff" stroke="#161616" stroke-width="6.947" stroke-linejoin="round" stroke-linecap="round" />
<path d="M280,62 L312,64" fill="none" stroke="#222" stroke-width="6.316" stroke-linejoin="round" stroke-linecap="round" />
<path d="M280,70 L312,72" fill="none" stroke="#222" stroke-width="6.316" stroke-linejoin="round" stroke-linecap="round" />
<path d="M280,78 L312,80" fill="none" stroke="#222" stroke-width="6.316" stroke-linejoin="round" stroke-linecap="round" />
<path d="M280,86 L312,88" fill="none" stroke="#222" stroke-width="6.316" stroke-linejoin="round" stroke-linecap="round" />
<path d="M280,94 L312,96" fill="none" stroke="#222" stroke-width="6.316" stroke-linejoin="round" stroke-linecap="round" />
<path d="M280,102 L312,104" fill="none" stroke="#222" stroke-width="6.316" stroke-linejoin="round" stroke-linecap="round" />
<path d="M280,202 L312,204" fill="none" stroke="#222" stroke-width="6.316" stroke-linejoin="round" stroke-linecap="round" />
<path d="M280,210 L312,212" fill="none" stroke="#222" stroke-width="6.316" stroke-linejoin="round" stroke-linecap="round" />
<path d="M280,218 L312,220" fill="none" stroke="#222" stroke-width="6.316" stroke-linejoin="round" stroke-linecap="round" />
<path d="M280,226 L312,228" fill="none" stroke="#222" stroke-width="6.316" stroke-linejoin="round" stroke-linecap="round" />
<path d="M280,234 L312,236" fill="none" stroke="#222" stroke-width="6.316" stroke-linejoin="round" stroke-linecap="round" />
<path d="M280,242 L312,244" fill="none" stroke="#222" stroke-width="6.316" stroke-linejoin="round" stroke-linecap="round" />
<path d="M303,112 L303,202" fill="none" stroke="#888" stroke-width="3.789" stroke-linejoin="round" stroke-linecap="round" />
<ellipse cx="190" cy="415" rx="78" ry="40" fill="#8c8c8c" stroke="#161616" stroke-width="7.579"/>
<ellipse cx="190" cy="411" rx="63" ry="29" fill="#fff" stroke="#161616" stroke-width="6.947"/>
</g>
<g transform=" translate(315 190) scale(0.200000)">
<path d="M58,246 L-5,306" fill="none" stroke="#222" stroke-width="3.0" stroke-linejoin="round" stroke-linecap="round" />
<path d="M158,292 L28,392" fill="none" stroke="#222" stroke-width="3.0" stroke-linejoin="round" stroke-linecap="round" />
<path d="M165,363 L38,381" fill="none" stroke="#222" stroke-width="3.0" stroke-linejoin="round" stroke-linecap="round" />
<path d="M330,439 L112,459" fill="none" stroke="#222" stroke-width="3.0" stroke-linejoin="round" stroke-linecap="round" />
<path d="M212,82 L60,240" fill="none" stroke="#161616" stroke-width="11.5" stroke-linejoin="round" stroke-linecap="round" />
<path d="M212,82 L66,234" fill="none" stroke="#fff" stroke-width="4.0" stroke-linejoin="round" stroke-linecap="round" />
<path d="M69,231 L58,242" fill="none" stroke="#161616" stroke-width="12.0" stroke-linejoin="round" stroke-linecap="round" />
<path d="M188,60 Q206,78 204,92 L218,98 Q220,82 242,84 Z" fill="#fff" stroke="#161616" stroke-width="4.5" stroke-linejoin="round" stroke-linecap="round" />
<ellipse cx="218" cy="68" rx="31" ry="13" fill="#fff" stroke="#161616" stroke-width="6.0" transform="rotate(32 218 68)"/>
<ellipse cx="220" cy="65" rx="22" ry="7" fill="none" stroke="#666" stroke-width="2.5" transform="rotate(32 220 65)"/>
<path d="M312,128 L160,288" fill="none" stroke="#161616" stroke-width="11.5" stroke-linejoin="round" stroke-linecap="round" />
<path d="M312,128 L166,282" fill="none" stroke="#fff" stroke-width="4.0" stroke-linejoin="round" stroke-linecap="round" />
<path d="M169,279 L158,290" fill="none" stroke="#161616" stroke-width="12.0" stroke-linejoin="round" stroke-linecap="round" />
<path d="M288,106 Q306,124 304,138 L318,144 Q320,128 342,130 Z" fill="#fff" stroke="#161616" stroke-width="4.5" stroke-linejoin="round" stroke-linecap="round" />
<ellipse cx="318" cy="114" rx="31" ry="13" fill="#fff" stroke="#161616" stroke-width="6.0" transform="rotate(32 318 114)"/>
<ellipse cx="320" cy="111" rx="22" ry="7" fill="none" stroke="#666" stroke-width="2.5" transform="rotate(32 320 111)"/>
<path d="M300,350 L165,362" fill="none" stroke="#161616" stroke-width="11.5" stroke-linejoin="round" stroke-linecap="round" />
<path d="M300,350 L175,361" fill="none" stroke="#fff" stroke-width="4.0" stroke-linejoin="round" stroke-linecap="round" />
<path d="M177,361 L163,362" fill="none" stroke="#161616" stroke-width="12.0" stroke-linejoin="round" stroke-linecap="round" />
<ellipse cx="322" cy="348" rx="33" ry="40" fill="#fff" stroke="#161616" stroke-width="6.5" transform="rotate(8 322 348)"/>
<ellipse cx="320" cy="348" rx="19" ry="24" fill="#fff" stroke="#161616" stroke-width="4.5" transform="rotate(8 320 348)"/>
<ellipse cx="316" cy="349" rx="8" ry="11" fill="#fff" stroke="#333" stroke-width="3.0" transform="rotate(8 316 349)"/>
<path d="M468,424 L330,438" fill="none" stroke="#161616" stroke-width="11.5" stroke-linejoin="round" stroke-linecap="round" />
<path d="M468,424 L340,437" fill="none" stroke="#fff" stroke-width="4.0" stroke-linejoin="round" stroke-linecap="round" />
<path d="M342,437 L328,438" fill="none" stroke="#161616" stroke-width="12.0" stroke-linejoin="round" stroke-linecap="round" />
<ellipse cx="490" cy="422" rx="33" ry="40" fill="#fff" stroke="#161616" stroke-width="6.5" transform="rotate(8 490 422)"/>
<ellipse cx="488" cy="422" rx="19" ry="24" fill="#fff" stroke="#161616" stroke-width="4.5" transform="rotate(8 488 422)"/>
<ellipse cx="484" cy="423" rx="8" ry="11" fill="#fff" stroke="#333" stroke-width="3.0" transform="rotate(8 484 423)"/>
</g>
<g transform=" translate(215 235) scale(0.200000)">
<path d="M60,290 L78,240 L148,138 L172,122 L212,70 L248,58 L292,62 L315,50 L388,53 L430,78 L480,88 L500,102 L502,125 L540,148 L600,212 L615,250 L622,330 L620,430 L600,460 L560,480 L520,505 L470,548 L430,568 L400,578 L345,578 L325,562 L100,458 L62,428 L57,402 L72,388 L62,340 Z" fill="#fff" stroke="#161616" stroke-width="7.67" stroke-linejoin="round" stroke-linecap="round" />
<path d="M192,135 L225,92" fill="none" stroke="#161616" stroke-width="21.83" stroke-linejoin="round" stroke-linecap="round" />
<path d="M225,147 L255,98" fill="none" stroke="#161616" stroke-width="21.83" stroke-linejoin="round" stroke-linecap="round" />
<path d="M255,163 L292,112" fill="none" stroke="#161616" stroke-width="21.83" stroke-linejoin="round" stroke-linecap="round" />
<path d="M292,183 L328,138" fill="none" stroke="#161616" stroke-width="21.83" stroke-linejoin="round" stroke-linecap="round" />
<path d="M328,203 L372,148" fill="none" stroke="#161616" stroke-width="21.83" stroke-linejoin="round" stroke-linecap="round" />
<path d="M368,219 L405,168" fill="none" stroke="#161616" stroke-width="21.83" stroke-linejoin="round" stroke-linecap="round" />
<path d="M192,135 L225,92" fill="none" stroke="#fff" stroke-width="10.03" stroke-linejoin="round" stroke-linecap="round" />
<path d="M199,136 L231,98" fill="none" stroke="#444" stroke-width="3.54" stroke-linejoin="round" stroke-linecap="round" />
<path d="M225,147 L255,98" fill="none" stroke="#fff" stroke-width="10.03" stroke-linejoin="round" stroke-linecap="round" />
<path d="M232,148 L261,104" fill="none" stroke="#444" stroke-width="3.54" stroke-linejoin="round" stroke-linecap="round" />
<path d="M255,163 L292,112" fill="none" stroke="#fff" stroke-width="10.03" stroke-linejoin="round" stroke-linecap="round" />
<path d="M262,164 L298,118" fill="none" stroke="#444" stroke-width="3.54" stroke-linejoin="round" stroke-linecap="round" />
<path d="M292,183 L328,138" fill="none" stroke="#fff" stroke-width="10.03" stroke-linejoin="round" stroke-linecap="round" />
<path d="M299,184 L334,144" fill="none" stroke="#444" stroke-width="3.54" stroke-linejoin="round" stroke-linecap="round" />
<path d="M328,203 L372,148" fill="none" stroke="#fff" stroke-width="10.03" stroke-linejoin="round" stroke-linecap="round" />
<path d="M335,204 L378,154" fill="none" stroke="#444" stroke-width="3.54" stroke-linejoin="round" stroke-linecap="round" />
<path d="M368,219 L405,168" fill="none" stroke="#fff" stroke-width="10.03" stroke-linejoin="round" stroke-linecap="round" />
<path d="M375,220 L411,174" fill="none" stroke="#444" stroke-width="3.54" stroke-linejoin="round" stroke-linecap="round" />
<path d="M212,70 L248,58 L300,62" fill="none" stroke="#161616" stroke-width="7.08" stroke-linejoin="round" stroke-linecap="round" />
<path d="M225,88 L262,78 L292,84" fill="none" stroke="#161616" stroke-width="5.31" stroke-linejoin="round" stroke-linecap="round" />
<path d="M286,68 Q318,44 388,53 L430,78 L480,88 L500,102 L498,120 L470,126 L415,121 L392,137 L330,137 L296,118 L284,92 Z" fill="#fff" stroke="#161616" stroke-width="6.49" stroke-linejoin="round" stroke-linecap="round" />
<ellipse cx="351" cy="95" rx="49" ry="24" fill="#fff" stroke="#161616" stroke-width="7.67" transform="rotate(6 351 95)"/>
<ellipse cx="290" cy="74" rx="6" ry="5" fill="#333" stroke="#161616" stroke-width="2.95"/>
<ellipse cx="420" cy="110" rx="6" ry="5" fill="#333" stroke="#161616" stroke-width="2.95"/>
<ellipse cx="460" cy="105" rx="6" ry="5" fill="#333" stroke="#161616" stroke-width="2.95"/>
<path d="M415,124 L415,196" fill="none" stroke="#161616" stroke-width="5.31" stroke-linejoin="round" stroke-linecap="round" />
<path d="M450,128 L450,206" fill="none" stroke="#161616" stroke-width="5.31" stroke-linejoin="round" stroke-linecap="round" />
<path d="M472,130 L472,212" fill="none" stroke="#161616" stroke-width="5.31" stroke-linejoin="round" stroke-linecap="round" />
<path d="M474,134 L512,128 L516,176 L478,186 Z" fill="#fff" stroke="#161616" stroke-width="8.85" stroke-linejoin="round" stroke-linecap="round" />
<path d="M488,140 L490,180" fill="none" stroke="#161616" stroke-width="7.08" stroke-linejoin="round" stroke-linecap="round" />
<path d="M502,125 L540,148 L540,196 L480,212 L410,192 L345,222" fill="none" stroke="#161616" stroke-width="6.49" stroke-linejoin="round" stroke-linecap="round" />
<path d="M528,150 L530,198" fill="none" stroke="#161616" stroke-width="5.9" stroke-linejoin="round" stroke-linecap="round" />
<path d="M420,205 L480,228 L560,205" fill="none" stroke="#161616" stroke-width="5.9" stroke-linejoin="round" stroke-linecap="round" />
<path d="M430,230 L470,245" fill="none" stroke="#161616" stroke-width="7.67" stroke-linejoin="round" stroke-linecap="round" />
<path d="M410,215 L412,250" fill="none" stroke="#161616" stroke-width="7.67" stroke-linejoin="round" stroke-linecap="round" />
<path d="M154,136 L351,219 L357,250 L352,282 L306,366 L264,388 L248,393 L82,337 L66,318 L63,290 L68,268 L87,206 L140,148 Z" fill="#fff" stroke="#161616" stroke-width="7.67" stroke-linejoin="round" stroke-linecap="round" />
<path d="M183,171 L322,230 L323,250 L311,276 L290,350 L268,358 L114,320 L100,302 L92,270 L108,216 L140,195 L170,184 Z" fill="#fff" stroke="#161616" stroke-width="7.08" stroke-linejoin="round" stroke-linecap="round" />
<ellipse cx="160" cy="152" rx="7" ry="8" fill="#fff" stroke="#161616" stroke-width="5.9"/>
<ellipse cx="332" cy="232" rx="7" ry="8" fill="#fff" stroke="#161616" stroke-width="5.9"/>
<ellipse cx="240" cy="381" rx="7" ry="8" fill="#fff" stroke="#161616" stroke-width="5.9"/>
<ellipse cx="96" cy="323" rx="7" ry="8" fill="#fff" stroke="#161616" stroke-width="5.9"/>
<path d="M114,216 Q140,200 170,203 Q205,190 231,195 L252,216" fill="none" stroke="#161616" stroke-width="5.9" stroke-linejoin="round" stroke-linecap="round" />
<path d="M135,260 L231,222" fill="none" stroke="#161616" stroke-width="8.85" stroke-linejoin="round" stroke-linecap="round" />
<path d="M231,222 L268,248 L306,270" fill="none" stroke="#161616" stroke-width="7.67" stroke-linejoin="round" stroke-linecap="round" />
<path d="M150,274 L236,240" fill="none" stroke="#161616" stroke-width="5.31" stroke-linejoin="round" stroke-linecap="round" />
<path d="M236,240 L262,262" fill="none" stroke="#161616" stroke-width="6.49" stroke-linejoin="round" stroke-linecap="round" />
<path d="M160,268 L218,296 L222,322 L205,332 L150,304 Z" fill="#fff" stroke="#161616" stroke-width="6.49" stroke-linejoin="round" stroke-linecap="round" />
<ellipse cx="210" cy="310" rx="12" ry="21" fill="#fff" stroke="#161616" stroke-width="5.9" transform="rotate(-15 210 310)"/>
<path d="M190,262 L236,244 L258,262 L224,290 Z" fill="#3a3a3a" stroke="none" stroke-linejoin="round" stroke-linecap="round" />
<path d="M232,282 L262,262 L292,276 L262,300 Z" fill="#555" stroke="none" stroke-linejoin="round" stroke-linecap="round" />
<path d="M238,292 L268,276" fill="none" stroke="#fff" stroke-width="3.54" stroke-linejoin="round" stroke-linecap="round" />
<path d="M246,300 L276,282" fill="none" stroke="#fff" stroke-width="2.95" stroke-linejoin="round" stroke-linecap="round" />
<path d="M130,290 L150,304 L150,318 L122,312 Z" fill="#444" stroke="none" stroke-linejoin="round" stroke-linecap="round" />
<path d="M222,322 L262,336 L270,356" fill="none" stroke="#161616" stroke-width="6.49" stroke-linejoin="round" stroke-linecap="round" />
<path d="M150,304 L160,330" fill="none" stroke="#161616" stroke-width="5.9" stroke-linejoin="round" stroke-linecap="round" />
<path d="M306,270 L300,300" fill="none" stroke="#161616" stroke-width="5.9" stroke-linejoin="round" stroke-linecap="round" />
<ellipse cx="111" cy="246" rx="25" ry="28" fill="#fff" stroke="#161616" stroke-width="8.26" transform="rotate(-10 111 246)"/>
<ellipse cx="114" cy="247" rx="12" ry="15" fill="#fff" stroke="#161616" stroke-width="5.31" transform="rotate(-10 114 247)"/>
<ellipse cx="282" cy="318" rx="25" ry="28" fill="#fff" stroke="#161616" stroke-width="8.26" transform="rotate(-10 282 318)"/>
<ellipse cx="284" cy="319" rx="12" ry="15" fill="#fff" stroke="#161616" stroke-width="5.31" transform="rotate(-10 284 319)"/>
<path d="M82,337 L248,393 L264,385 L330,420 L345,470 L330,515 L100,415 L75,388 Z" fill="#2e2e2e" stroke="none" stroke-linejoin="round" stroke-linecap="round" />
<path d="M112,346 L116,426" fill="none" stroke="#fff" stroke-width="20.06" stroke-linejoin="round" stroke-linecap="round" stroke-linecap="butt"/>
<path d="M118,350 L121,420" fill="none" stroke="#8a8a8a" stroke-width="3.54" stroke-linejoin="round" stroke-linecap="round" />
<path d="M139,355 L143,435" fill="none" stroke="#fff" stroke-width="20.06" stroke-linejoin="round" stroke-linecap="round" stroke-linecap="butt"/>
<path d="M145,359 L148,429" fill="none" stroke="#8a8a8a" stroke-width="3.54" stroke-linejoin="round" stroke-linecap="round" />
<path d="M166,364 L170,444" fill="none" stroke="#fff" stroke-width="20.06" stroke-linejoin="round" stroke-linecap="round" stroke-linecap="butt"/>
<path d="M172,368 L175,438" fill="none" stroke="#8a8a8a" stroke-width="3.54" stroke-linejoin="round" stroke-linecap="round" />
<path d="M193,373 L197,453" fill="none" stroke="#fff" stroke-width="20.06" stroke-linejoin="round" stroke-linecap="round" stroke-linecap="butt"/>
<path d="M199,377 L202,447" fill="none" stroke="#8a8a8a" stroke-width="3.54" stroke-linejoin="round" stroke-linecap="round" />
<path d="M220,382 L224,462" fill="none" stroke="#fff" stroke-width="20.06" stroke-linejoin="round" stroke-linecap="round" stroke-linecap="butt"/>
<path d="M226,386 L229,456" fill="none" stroke="#8a8a8a" stroke-width="3.54" stroke-linejoin="round" stroke-linecap="round" />
<path d="M262,398 L265,474" fill="none" stroke="#fff" stroke-width="18.88" stroke-linejoin="round" stroke-linecap="round" stroke-linecap="butt"/>
<path d="M268,402 L270,468" fill="none" stroke="#8a8a8a" stroke-width="3.54" stroke-linejoin="round" stroke-linecap="round" />
<path d="M287,408 L290,484" fill="none" stroke="#fff" stroke-width="18.88" stroke-linejoin="round" stroke-linecap="round" stroke-linecap="butt"/>
<path d="M293,412 L295,478" fill="none" stroke="#8a8a8a" stroke-width="3.54" stroke-linejoin="round" stroke-linecap="round" />
<path d="M312,418 L315,494" fill="none" stroke="#fff" stroke-width="18.88" stroke-linejoin="round" stroke-linecap="round" stroke-linecap="butt"/>
<path d="M318,422 L320,488" fill="none" stroke="#8a8a8a" stroke-width="3.54" stroke-linejoin="round" stroke-linecap="round" />
<path d="M100,352 L75,388 L62,428" fill="none" stroke="#161616" stroke-width="5.9" stroke-linejoin="round" stroke-linecap="round" />
<path d="M72,388 L108,352" fill="none" stroke="#161616" stroke-width="5.31" stroke-linejoin="round" stroke-linecap="round" />
<path d="M62,402 L100,396 L330,505 L345,578 L325,562 L100,458 L62,428 Z" fill="#fff" stroke="#161616" stroke-width="7.08" stroke-linejoin="round" stroke-linecap="round" />
<path d="M112,446 L322,540" fill="none" stroke="#161616" stroke-width="5.9" stroke-linejoin="round" stroke-linecap="round" />
<path d="M150,452 L300,520" fill="none" stroke="#333" stroke-width="9.44" stroke-linejoin="round" stroke-linecap="round" />
<ellipse cx="101" cy="432" rx="19" ry="22" fill="#fff" stroke="#161616" stroke-width="7.08" transform="rotate(-20 101 432)"/>
<ellipse cx="103" cy="434" rx="9" ry="11" fill="#fff" stroke="#161616" stroke-width="4.13"/>
<ellipse cx="273" cy="517" rx="19" ry="22" fill="#fff" stroke="#161616" stroke-width="7.08" transform="rotate(-20 273 517)"/>
<ellipse cx="275" cy="519" rx="9" ry="11" fill="#fff" stroke="#161616" stroke-width="4.13"/>
<path d="M540,148 L600,212 L615,250 L622,330 L620,430 L600,460 L560,480 L548,470 L572,440 L580,330 L570,260 L545,215 Z" fill="#fff" stroke="#161616" stroke-width="6.49" stroke-linejoin="round" stroke-linecap="round" />
<path d="M596,225 L606,330 L604,440" fill="none" stroke="#161616" stroke-width="7.67" stroke-linejoin="round" stroke-linecap="round" />
<path d="M588,235 L596,330 L594,436" fill="none" stroke="#444" stroke-width="3.54" stroke-linejoin="round" stroke-linecap="round" />
<path d="M560,250 L590,262 L592,300 L560,310 Z" fill="#fff" stroke="#161616" stroke-width="7.67" stroke-linejoin="round" stroke-linecap="round" />
<ellipse cx="573" cy="282" rx="8" ry="10" fill="#fff" stroke="#161616" stroke-width="4.72"/>
<path d="M552,420 L585,432 L585,468 L552,476 Z" fill="#fff" stroke="#161616" stroke-width="7.08" stroke-linejoin="round" stroke-linecap="round" />
<ellipse cx="566" cy="450" rx="8" ry="10" fill="#fff" stroke="#161616" stroke-width="4.72"/>
<path d="M560,312 L556,420" fill="none" stroke="#161616" stroke-width="7.08" stroke-linejoin="round" stroke-linecap="round" />
<path d="M540,196 L560,250" fill="none" stroke="#161616" stroke-width="5.9" stroke-linejoin="round" stroke-linecap="round" />
<ellipse cx="434" cy="407" rx="96" ry="151" fill="#fff" stroke="#161616" stroke-width="8.26" transform="rotate(19 434 407)"/>
<ellipse cx="436" cy="407" rx="88" ry="142" fill="none" stroke="#555" stroke-width="2.95" transform="rotate(19 436 407)"/>
<ellipse cx="442" cy="410" rx="72" ry="121" fill="#fff" stroke="#161616" stroke-width="7.67" transform="rotate(22 442 410)"/>
<ellipse cx="452" cy="268" rx="8" ry="9" fill="#fff" stroke="#161616" stroke-width="5.31"/>
<ellipse cx="437" cy="546" rx="8" ry="9" fill="#fff" stroke="#161616" stroke-width="5.31"/>
<clipPath id="ringclip"><ellipse cx="442" cy="410" rx="70" ry="119" transform="rotate(22 442 410)"/></clipPath>
<g clip-path="url(#ringclip)">
<path d="M437,295 Q422,390 440,490" fill="none" stroke="#161616" stroke-width="7.08" stroke-linejoin="round" stroke-linecap="round" />
<path d="M398,316 Q374,410 406,512" fill="none" stroke="#161616" stroke-width="7.67" stroke-linejoin="round" stroke-linecap="round" />
<path d="M410,318 Q388,410 416,505" fill="none" stroke="#444" stroke-width="3.54" stroke-linejoin="round" stroke-linecap="round" />
<path d="M391,360 L437,374" fill="none" stroke="#161616" stroke-width="9.44" stroke-linejoin="round" stroke-linecap="round" />
<path d="M389,374 L435,388" fill="none" stroke="#161616" stroke-width="4.72" stroke-linejoin="round" stroke-linecap="round" />
<path d="M372,437 L416,423 L437,479" fill="none" stroke="#161616" stroke-width="7.67" stroke-linejoin="round" stroke-linecap="round" />
<path d="M380,497 L432,486" fill="none" stroke="#161616" stroke-width="8.26" stroke-linejoin="round" stroke-linecap="round" />
<path d="M384,468 L432,462 L440,500 L404,516 Z" fill="#555" stroke="none" stroke-linejoin="round" stroke-linecap="round" />
<path d="M396,330 L436,318 L436,352 L393,352 Z" fill="#bbb" stroke="none" stroke-linejoin="round" stroke-linecap="round" />
<path d="M437,479 L470,520" fill="none" stroke="#161616" stroke-width="5.9" stroke-linejoin="round" stroke-linecap="round" />
</g>
<path d="M578,262 L584,330 L580,432" fill="none" stroke="#161616" stroke-width="5.9" stroke-linejoin="round" stroke-linecap="round" />
<path d="M545,215 L552,250" fill="none" stroke="#161616" stroke-width="7.08" stroke-linejoin="round" stroke-linecap="round" />
<path d="M351,219 L385,250 L400,290" fill="none" stroke="#161616" stroke-width="6.49" stroke-linejoin="round" stroke-linecap="round" />
<path d="M357,250 L374,268 L362,330" fill="none" stroke="#161616" stroke-width="5.9" stroke-linejoin="round" stroke-linecap="round" />
<path d="M330,420 L352,400 L346,456" fill="none" stroke="#161616" stroke-width="7.08" stroke-linejoin="round" stroke-linecap="round" />
<path d="M345,470 L360,520 L400,560" fill="none" stroke="#161616" stroke-width="5.9" stroke-linejoin="round" stroke-linecap="round" />
</g>
</svg>
</body></html>
